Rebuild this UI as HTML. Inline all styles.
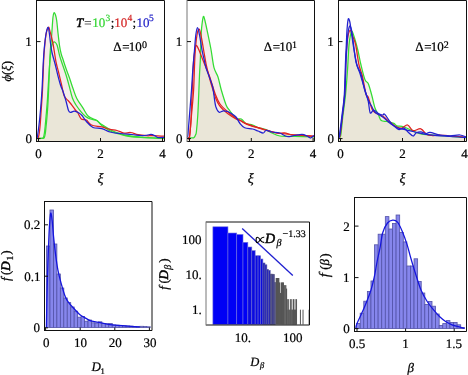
<!DOCTYPE html>
<html><head><meta charset="utf-8"><style>
html,body{margin:0;padding:0;background:#fff;width:468px;height:375px;overflow:hidden}
svg{display:block;font-family:"Liberation Serif",serif;will-change:transform;text-rendering:geometricPrecision}
</style></head><body>
<svg width="468" height="375" viewBox="0 0 468 375" font-family="Liberation Serif">
<rect width="468" height="375" fill="#fff"/>
<polygon points="37.00,138.00 37.25,137.36 37.50,136.00 37.75,134.34 38.00,132.63 38.25,130.86 38.50,129.01 38.75,127.07 39.00,125.00 39.25,122.79 39.50,120.48 39.75,118.06 40.00,115.52 40.25,112.84 40.50,110.00 40.75,107.08 41.00,104.09 41.25,100.97 41.50,97.64 41.75,94.02 42.00,90.00 42.25,85.24 42.50,79.80 42.75,74.02 43.00,68.26 43.25,63.00 43.50,58.46 43.75,54.50 44.00,51.29 44.25,48.53 44.50,45.98 44.75,43.57 45.00,41.32 45.25,39.22 45.50,37.29 45.75,35.55 46.00,34.00 46.25,32.70 46.50,31.53 46.75,30.46 47.00,29.51 47.25,28.73 47.50,28.07 47.75,27.57 48.00,27.30 48.25,27.47 48.50,27.30 48.75,27.27 49.00,27.56 49.25,28.29 49.50,29.31 49.75,30.35 50.00,31.30 50.25,32.19 50.50,33.09 50.75,34.00 51.00,34.94 51.25,35.89 51.50,36.87 51.75,33.89 52.00,30.26 52.25,26.70 52.50,23.12 52.75,19.54 53.00,17.00 53.25,15.25 53.50,13.94 53.75,13.12 54.00,12.70 54.25,12.68 54.50,12.89 54.75,13.25 55.00,13.73 55.25,14.32 55.50,15.00 55.75,15.80 56.00,16.75 56.25,17.92 56.50,19.34 56.75,21.10 57.00,23.22 57.25,25.64 57.50,28.19 57.75,30.69 58.00,33.00 58.25,35.19 58.50,37.37 58.75,39.50 59.00,41.56 59.25,43.50 59.50,45.30 59.75,46.93 60.00,48.41 60.25,49.75 60.50,50.98 60.75,52.12 61.00,53.18 61.25,54.19 61.50,55.10 61.75,55.87 62.00,56.56 62.25,57.23 62.50,57.93 62.75,58.65 63.00,59.41 63.25,60.17 63.50,60.95 63.75,61.72 64.00,62.49 64.25,63.26 64.50,64.02 64.75,64.79 65.00,65.54 65.25,66.30 65.50,67.04 65.75,67.77 66.00,68.50 66.25,69.20 66.50,69.90 66.75,70.58 67.00,71.25 67.25,71.92 67.50,72.59 67.75,73.25 68.00,73.91 68.25,74.58 68.50,75.25 68.75,75.92 69.00,76.60 69.25,77.30 69.50,78.00 69.75,78.73 70.00,79.46 70.25,80.21 70.50,80.97 70.75,81.74 71.00,82.51 71.25,83.28 71.50,84.04 71.75,84.81 72.00,85.57 72.25,86.32 72.50,87.06 72.75,87.78 73.00,88.50 73.25,89.22 73.50,89.94 73.75,90.68 74.00,91.42 74.25,92.16 74.50,92.88 74.75,93.60 75.00,94.28 75.25,94.95 75.50,95.59 75.75,96.19 76.00,96.80 76.25,97.34 76.50,97.87 76.75,98.39 77.00,98.86 77.25,99.31 77.50,99.77 77.75,100.21 78.00,100.61 78.25,101.01 78.50,101.41 78.75,101.81 79.00,102.18 79.25,102.56 79.50,102.93 79.75,103.31 80.00,103.67 80.25,104.03 80.50,104.39 80.75,104.75 81.00,105.11 81.25,105.47 81.50,105.83 81.75,106.19 82.00,106.56 82.25,106.93 82.50,107.30 82.75,107.68 83.00,108.07 83.25,108.48 83.50,108.89 83.75,109.30 84.00,109.75 84.25,110.20 84.50,110.65 84.75,111.10 85.00,111.55 85.25,112.01 85.50,112.45 85.75,112.87 86.00,113.28 86.25,113.69 86.50,114.05 86.75,114.40 87.00,114.74 87.25,115.08 87.50,115.35 87.75,115.62 88.00,115.88 88.25,116.15 88.50,116.35 88.75,116.54 89.00,116.72 89.25,116.91 89.50,117.09 89.75,117.24 90.00,117.38 90.25,117.52 90.50,117.65 90.75,117.79 91.00,117.92 91.25,118.04 91.50,118.15 91.75,118.26 92.00,118.37 92.25,118.48 92.50,118.59 92.75,118.69 93.00,118.79 93.25,118.89 93.50,118.99 93.75,119.09 94.00,119.19 94.25,119.30 94.50,119.40 94.75,119.51 95.00,119.61 95.25,119.72 95.50,119.83 95.75,119.95 96.00,120.08 96.25,120.21 96.50,120.34 96.75,120.47 97.00,120.64 97.25,120.81 97.50,120.97 97.75,121.14 98.00,121.35 98.25,121.55 98.50,121.76 98.75,121.99 99.00,122.23 99.25,122.46 99.50,122.70 99.75,122.93 100.00,123.14 100.25,123.35 100.50,123.56 100.75,123.76 101.00,123.93 101.25,124.11 101.50,124.29 101.75,124.46 102.00,124.63 102.25,124.79 102.50,124.95 102.75,125.11 103.00,125.27 103.25,125.43 103.50,125.59 103.75,125.75 104.00,125.90 104.25,126.06 104.50,126.22 104.75,126.37 105.00,126.53 105.25,126.68 105.50,126.83 105.75,126.99 106.00,127.14 106.25,127.29 106.50,127.44 106.75,127.59 107.00,127.75 107.25,127.90 107.50,128.04 107.75,128.19 108.00,128.34 108.25,128.48 108.50,128.63 108.75,128.78 109.00,128.92 109.25,129.07 109.50,129.21 109.75,129.33 110.00,129.40 110.25,129.45 110.50,129.50 110.75,129.55 111.00,129.60 111.25,129.65 111.50,129.69 111.75,129.72 112.00,129.76 112.25,129.79 112.50,129.83 112.75,129.86 113.00,129.88 113.25,129.91 113.50,129.94 113.75,129.97 114.00,130.00 114.25,130.03 114.50,130.06 114.75,130.09 115.00,130.12 115.25,130.16 115.50,130.20 115.75,130.24 116.00,130.28 116.25,130.34 116.50,130.39 116.75,130.45 117.00,130.50 117.25,130.58 117.50,130.66 117.75,130.74 118.00,130.82 118.25,130.90 118.50,131.00 118.75,131.10 119.00,131.20 119.25,131.30 119.50,131.41 119.75,131.52 120.00,131.63 120.25,131.73 120.50,131.84 120.75,131.95 121.00,132.05 121.25,132.15 121.50,132.26 121.75,132.36 122.00,132.45 122.25,132.53 122.50,132.62 122.75,132.71 123.00,132.77 123.25,132.83 123.50,132.89 123.75,132.94 124.00,133.00 124.25,133.01 124.50,133.03 124.75,133.04 125.00,133.05 125.25,133.05 125.50,133.03 125.75,133.00 126.00,132.98 126.25,132.96 126.50,132.91 126.75,132.87 127.00,132.83 127.25,132.79 127.50,132.75 127.75,132.70 128.00,132.66 128.25,132.62 128.50,132.58 128.75,132.55 129.00,132.53 129.25,132.50 129.50,132.47 129.75,132.47 130.00,132.48 130.25,132.49 130.50,132.49 130.75,132.51 131.00,132.55 131.25,132.60 131.50,132.64 131.75,132.69 132.00,132.75 132.25,132.82 132.50,132.89 132.75,132.96 133.00,133.03 133.25,133.12 133.50,133.20 133.75,133.29 134.00,133.37 134.25,133.46 134.50,133.55 134.75,133.63 135.00,133.72 135.25,133.81 135.50,133.90 135.75,133.98 136.00,134.06 136.25,134.14 136.50,134.22 136.75,134.29 137.00,134.35 137.25,134.41 137.50,134.48 137.75,134.54 138.00,134.60 138.25,134.65 138.50,134.69 138.75,134.74 139.00,134.78 139.25,134.83 139.50,134.87 139.75,134.91 140.00,134.94 140.25,134.98 140.50,135.02 140.75,135.06 141.00,135.09 141.25,135.12 141.50,135.16 141.75,135.19 142.00,135.22 142.25,135.25 142.50,135.28 142.75,135.31 143.00,135.34 143.25,135.37 143.50,135.40 143.75,135.42 144.00,135.45 144.25,135.47 144.50,135.45 144.75,135.43 145.00,135.41 145.25,135.39 145.50,135.36 145.75,135.33 146.00,135.31 146.25,135.28 146.50,135.26 146.75,135.23 147.00,135.20 147.25,135.16 147.50,135.12 147.75,135.08 148.00,135.01 148.25,134.95 148.50,134.88 148.75,134.81 149.00,134.73 149.25,134.66 149.50,134.59 149.75,134.52 150.00,134.48 150.25,134.43 150.50,134.41 150.75,134.40 151.00,134.40 151.25,134.44 151.50,134.47 151.75,134.52 152.00,134.59 152.25,134.66 152.50,134.74 152.75,134.83 153.00,134.92 153.25,135.02 153.50,135.12 153.75,135.23 154.00,135.34 154.25,135.45 154.50,135.57 154.75,135.68 155.00,135.80 155.25,135.82 155.50,135.83 155.75,135.84 156.00,135.85 156.25,135.86 156.50,135.87 156.75,135.88 157.00,135.89 157.25,135.90 157.50,135.91 157.75,135.93 158.00,135.94 158.25,135.95 158.50,135.96 158.75,135.97 159.00,135.98 159.25,135.99 159.50,136.00 159.75,136.01 160.00,136.02 160.25,136.03 160.50,136.05 160.75,136.06 161.00,136.07 161.25,136.08 161.50,136.09 161.75,136.10 162.00,136.11 162.25,136.12 162.50,136.13 162.75,136.15 163.00,136.16 163.25,136.17 163.50,136.18 163.75,136.19 164.00,136.20 164.00,141.0 37.00,141.0" fill="#f6ecea"/>
<polygon points="37.00,138.30 37.25,138.31 37.50,138.32 37.75,138.33 38.00,138.34 38.25,138.36 38.50,138.37 38.75,138.38 39.00,138.39 39.25,138.40 39.50,138.41 39.75,138.42 40.00,138.43 40.25,138.44 40.50,138.44 40.75,138.44 41.00,138.44 41.25,138.43 41.50,138.43 41.75,138.43 42.00,138.42 42.25,138.41 42.50,138.40 42.75,138.38 43.00,138.36 43.25,138.34 43.50,138.30 43.75,138.22 44.00,138.03 44.25,137.68 44.50,137.17 44.75,136.38 45.00,135.26 45.25,133.81 45.50,132.01 45.75,129.58 46.00,127.00 46.25,124.65 46.50,122.24 46.75,119.56 47.00,116.65 47.25,113.62 47.50,110.38 47.75,106.76 48.00,102.54 48.25,97.65 48.50,92.24 48.75,86.46 49.00,80.12 49.25,73.69 49.50,67.55 49.75,63.18 50.00,60.00 50.25,57.03 50.50,54.24 50.75,51.70 51.00,49.49 51.25,48.43 51.50,49.91 51.75,51.27 52.00,52.50 52.25,53.59 52.50,54.59 52.75,55.54 53.00,56.45 53.25,57.33 53.50,58.21 53.75,59.09 54.00,60.00 54.25,60.93 54.50,61.84 54.75,62.75 55.00,63.68 55.25,64.63 55.50,65.61 55.75,66.62 56.00,67.65 56.25,68.71 56.50,69.77 56.75,70.84 57.00,71.90 57.25,72.95 57.50,73.99 57.75,75.00 58.00,76.00 58.25,76.97 58.50,77.93 58.75,78.89 59.00,79.83 59.25,80.75 59.50,81.65 59.75,82.53 60.00,83.39 60.25,84.20 60.50,85.00 60.75,85.72 61.00,86.42 61.25,87.07 61.50,87.70 61.75,88.30 62.00,88.91 62.25,89.51 62.50,90.13 62.75,90.76 63.00,91.69 63.25,92.83 63.50,93.79 63.75,94.70 64.00,95.42 64.25,96.10 64.50,96.60 64.75,97.09 65.00,97.61 65.25,98.44 65.50,99.28 65.75,100.14 66.00,101.00 66.25,101.93 66.50,102.89 66.75,103.91 67.00,104.94 67.25,105.99 67.50,107.01 67.75,108.01 68.00,108.93 68.25,109.76 68.50,110.50 68.75,111.07 69.00,111.55 69.25,111.90 69.50,112.10 69.75,112.21 70.00,112.25 70.25,112.28 70.50,112.30 70.75,112.28 71.00,112.25 71.25,112.17 71.50,112.09 71.75,111.99 72.00,111.88 72.25,111.77 72.50,111.66 72.75,111.56 73.00,111.45 73.25,111.38 73.50,111.30 73.75,111.24 74.00,111.23 74.25,111.21 74.50,111.22 74.75,111.26 75.00,111.30 75.25,111.36 75.50,111.43 75.75,111.50 76.00,111.58 76.25,111.68 76.50,111.78 76.75,111.87 77.00,111.99 77.25,112.11 77.50,112.44 77.75,112.79 78.00,113.18 78.25,113.62 78.50,114.09 78.75,114.61 79.00,115.15 79.25,115.69 79.50,116.23 79.75,116.73 80.00,117.23 80.25,117.65 80.50,118.05 80.75,118.39 81.00,118.67 81.25,118.94 81.50,119.11 81.75,119.25 82.00,119.38 82.25,119.44 82.50,119.49 82.75,119.53 83.00,119.56 83.25,119.56 83.50,119.56 83.75,119.56 84.00,119.56 84.25,119.56 84.50,119.56 84.75,119.57 85.00,119.75 85.25,120.09 85.50,120.43 85.75,120.73 86.00,121.03 86.25,121.32 86.50,121.61 86.75,121.89 87.00,122.17 87.25,122.45 87.50,122.73 87.75,123.01 88.00,123.28 88.25,123.56 88.50,123.83 88.75,124.10 89.00,124.36 89.25,124.62 89.50,124.88 89.75,125.11 90.00,125.34 90.25,125.58 90.50,125.81 90.75,126.01 91.00,126.21 91.25,126.40 91.50,126.59 91.75,126.79 92.00,126.93 92.25,127.07 92.50,127.21 92.75,127.36 93.00,127.50 93.25,127.58 93.50,127.66 93.75,127.75 94.00,127.83 94.25,127.91 94.50,127.96 94.75,128.00 95.00,128.03 95.25,128.07 95.50,128.10 95.75,128.14 96.00,128.15 96.25,128.17 96.50,128.18 96.75,128.19 97.00,128.20 97.25,128.21 97.50,128.22 97.75,128.22 98.00,128.23 98.25,128.23 98.50,128.24 98.75,128.24 99.00,128.26 99.25,128.27 99.50,128.29 99.75,128.30 100.00,128.32 100.25,128.33 100.50,128.37 100.75,128.41 101.00,128.46 101.25,128.50 101.50,128.55 101.75,128.59 102.00,128.67 102.25,128.75 102.50,128.83 102.75,128.91 103.00,129.00 103.25,129.09 103.50,129.19 103.75,129.30 104.00,129.41 104.25,129.52 104.50,129.63 104.75,129.75 105.00,129.87 105.25,129.99 105.50,130.12 105.75,130.24 106.00,130.36 106.25,130.48 106.50,130.60 106.75,130.72 107.00,130.85 107.25,130.96 107.50,131.07 107.75,131.18 108.00,131.29 108.25,131.39 108.50,131.50 108.75,131.59 109.00,131.67 109.25,131.75 109.50,131.83 109.75,131.92 110.00,132.00 110.25,132.06 110.50,132.12 110.75,132.18 111.00,132.24 111.25,132.30 111.50,132.36 111.75,132.40 112.00,132.45 112.25,132.50 112.50,132.54 112.75,132.59 113.00,132.64 113.25,132.68 113.50,132.71 113.75,132.75 114.00,132.79 114.25,132.82 114.50,132.86 114.75,132.90 115.00,132.93 115.25,133.02 115.50,133.10 115.75,133.19 116.00,133.27 116.25,133.36 116.50,133.43 116.75,133.51 117.00,133.58 117.25,133.66 117.50,133.73 117.75,133.81 118.00,133.88 118.25,133.95 118.50,134.03 118.75,134.10 119.00,134.17 119.25,134.23 119.50,134.30 119.75,134.36 120.00,134.43 120.25,134.49 120.50,134.56 120.75,134.63 121.00,134.69 121.25,134.75 121.50,134.81 121.75,134.87 122.00,134.93 122.25,134.99 122.50,135.04 122.75,135.10 123.00,135.16 123.25,135.22 123.50,135.28 123.75,135.33 124.00,135.38 124.25,135.44 124.50,135.49 124.75,135.54 125.00,135.59 125.25,135.64 125.50,135.70 125.75,135.75 126.00,135.80 126.25,135.85 126.50,135.89 126.75,135.94 127.00,135.98 127.25,136.03 127.50,136.07 127.75,136.12 128.00,136.16 128.25,136.21 128.50,136.25 128.75,136.28 129.00,136.32 129.25,136.36 129.50,136.40 129.75,136.43 130.00,136.47 130.25,136.51 130.50,136.54 130.75,136.58 131.00,136.61 131.25,136.64 131.50,136.67 131.75,136.70 132.00,136.73 132.25,136.76 132.50,136.79 132.75,136.82 133.00,136.84 133.25,136.87 133.50,136.89 133.75,136.92 134.00,136.94 134.25,136.96 134.50,136.99 134.75,137.01 135.00,137.03 135.25,137.06 135.50,137.08 135.75,137.10 136.00,137.12 136.25,137.14 136.50,137.16 136.75,137.18 137.00,137.20 137.25,137.22 137.50,137.24 137.75,137.26 138.00,137.28 138.25,137.30 138.50,137.32 138.75,137.34 139.00,137.35 139.25,137.37 139.50,137.39 139.75,137.41 140.00,137.43 140.25,137.45 140.50,137.46 140.75,137.48 141.00,137.50 141.25,137.52 141.50,137.53 141.75,137.55 142.00,137.56 142.25,137.58 142.50,137.59 142.75,137.61 143.00,137.62 143.25,137.64 143.50,137.65 143.75,137.67 144.00,137.68 144.25,137.70 144.50,137.71 144.75,137.72 145.00,137.74 145.25,137.75 145.50,137.76 145.75,137.77 146.00,137.78 146.25,137.80 146.50,137.81 146.75,137.82 147.00,137.83 147.25,137.84 147.50,137.85 147.75,137.87 148.00,137.88 148.25,137.89 148.50,137.90 148.75,137.91 149.00,137.93 149.25,137.94 149.50,137.95 149.75,137.96 150.00,137.97 150.25,137.98 150.50,137.99 150.75,138.00 151.00,138.01 151.25,138.02 151.50,138.03 151.75,138.04 152.00,138.05 152.25,138.06 152.50,138.07 152.75,138.08 153.00,138.09 153.25,138.10 153.50,138.11 153.75,138.12 154.00,138.13 154.25,138.14 154.50,138.15 154.75,138.16 155.00,138.16 155.25,138.17 155.50,138.18 155.75,138.19 156.00,138.20 156.25,138.21 156.50,138.22 156.75,138.23 157.00,138.24 157.25,138.25 157.50,138.26 157.75,138.27 158.00,138.28 158.25,138.29 158.50,138.29 158.75,138.30 159.00,138.31 159.25,138.32 159.50,138.33 159.75,138.34 160.00,138.35 160.25,138.36 160.50,138.37 160.75,138.38 161.00,138.38 161.25,138.39 161.50,138.40 161.75,138.41 162.00,138.42 162.25,138.43 162.50,138.44 162.75,138.45 163.00,138.46 163.25,138.47 163.50,138.48 163.75,138.49 164.00,138.50 164.00,141.0 37.00,141.0" fill="#eae6d8"/>
<path d="M37.00,138.30 C37.92,138.32 41.28,138.52 42.50,138.40 C43.72,138.28 43.83,138.42 44.30,137.60 C44.77,136.78 45.02,135.27 45.30,133.50 C45.58,131.73 45.75,129.42 46.00,127.00 C46.25,124.58 46.50,122.50 46.80,119.00 C47.10,115.50 47.50,110.83 47.80,106.00 C48.10,101.17 48.33,96.00 48.60,90.00 C48.87,84.00 49.13,76.33 49.40,70.00 C49.67,63.67 49.88,57.00 50.20,52.00 C50.52,47.00 50.95,44.33 51.30,40.00 C51.65,35.67 52.02,29.83 52.30,26.00 C52.58,22.17 52.72,19.22 53.00,17.00 C53.28,14.78 53.58,13.03 54.00,12.70 C54.42,12.37 55.05,13.67 55.50,15.00 C55.95,16.33 56.28,17.70 56.70,20.70 C57.12,23.70 57.52,28.78 58.00,33.00 C58.48,37.22 59.07,42.50 59.60,46.00 C60.13,49.50 60.67,51.87 61.20,54.00 C61.73,56.13 62.00,56.38 62.80,58.80 C63.60,61.22 64.88,65.30 66.00,68.50 C67.12,71.70 68.33,74.67 69.50,78.00 C70.67,81.33 71.78,85.08 73.00,88.50 C74.22,91.92 75.15,95.27 76.80,98.50 C78.45,101.73 80.98,104.95 82.90,107.90 C84.82,110.85 85.98,114.10 88.30,116.20 C90.62,118.30 94.55,119.12 96.80,120.50 C99.05,121.88 99.13,122.75 101.80,124.50 C104.47,126.25 109.77,129.50 112.80,131.00 C115.83,132.50 117.73,132.78 120.00,133.50 C122.27,134.22 122.83,134.68 126.40,135.30 C129.97,135.92 135.13,136.70 141.40,137.20 C147.67,137.70 160.23,138.12 164.00,138.30" fill="none" stroke="#33dd33" stroke-width="1.25" stroke-linejoin="round"/>
<path d="M37.00,138.30 C37.80,138.32 40.73,138.53 41.80,138.40 C42.87,138.27 42.97,138.40 43.40,137.50 C43.83,136.60 44.10,134.92 44.40,133.00 C44.70,131.08 44.92,128.83 45.20,126.00 C45.48,123.17 45.73,120.33 46.10,116.00 C46.47,111.67 46.98,106.00 47.40,100.00 C47.82,94.00 48.17,86.67 48.60,80.00 C49.03,73.33 49.55,65.45 50.00,60.00 C50.45,54.55 50.85,50.10 51.30,47.30 C51.75,44.50 52.13,44.08 52.70,43.20 C53.27,42.32 53.95,41.62 54.70,42.00 C55.45,42.38 56.38,43.23 57.20,45.50 C58.02,47.77 58.72,52.43 59.60,55.60 C60.48,58.77 61.43,61.30 62.50,64.50 C63.57,67.70 64.88,71.22 66.00,74.80 C67.12,78.38 68.13,82.13 69.20,86.00 C70.27,89.87 71.27,94.83 72.40,98.00 C73.53,101.17 74.52,102.65 76.00,105.00 C77.48,107.35 79.70,110.18 81.30,112.10 C82.90,114.02 84.08,115.35 85.60,116.50 C87.12,117.65 88.55,118.33 90.40,119.00 C92.25,119.67 94.80,119.42 96.70,120.50 C98.60,121.58 99.25,123.62 101.80,125.50 C104.35,127.38 107.97,130.08 112.00,131.80 C116.03,133.52 121.17,134.85 126.00,135.80 C130.83,136.75 134.67,137.05 141.00,137.50 C147.33,137.95 160.17,138.33 164.00,138.50" fill="none" stroke="#33dd33" stroke-width="1.25" stroke-linejoin="round"/>
<path d="M37.00,138.30 C37.25,138.08 38.00,138.88 38.50,137.00 C39.00,135.12 39.55,131.50 40.00,127.00 C40.45,122.50 40.78,116.17 41.20,110.00 C41.62,103.83 42.10,98.00 42.50,90.00 C42.90,82.00 43.27,69.00 43.60,62.00 C43.93,55.00 44.08,52.67 44.50,48.00 C44.92,43.33 45.43,37.45 46.10,34.00 C46.77,30.55 47.85,27.75 48.50,27.30 C49.15,26.85 49.30,28.85 50.00,31.30 C50.70,33.75 51.92,38.22 52.70,42.00 C53.48,45.78 54.15,50.67 54.70,54.00 C55.25,57.33 55.37,59.00 56.00,62.00 C56.63,65.00 57.57,68.17 58.50,72.00 C59.43,75.83 60.65,81.00 61.60,85.00 C62.55,89.00 63.13,93.42 64.20,96.00 C65.27,98.58 66.87,99.17 68.00,100.50 C69.13,101.83 69.83,102.50 71.00,104.00 C72.17,105.50 73.85,108.00 75.00,109.50 C76.15,111.00 76.85,111.42 77.90,113.00 C78.95,114.58 79.88,117.83 81.30,119.00 C82.72,120.17 84.70,119.00 86.40,120.00 C88.10,121.00 88.93,123.85 91.50,125.00 C94.07,126.15 98.72,126.17 101.80,126.90 C104.88,127.63 107.47,128.80 110.00,129.40 C112.53,130.00 114.67,129.90 117.00,130.50 C119.33,131.10 121.72,132.67 124.00,133.00 C126.28,133.33 128.37,132.23 130.70,132.50 C133.03,132.77 135.33,134.07 138.00,134.60 C140.67,135.13 144.37,135.52 146.70,135.70 C149.03,135.88 149.12,135.62 152.00,135.70 C154.88,135.78 162.00,136.12 164.00,136.20" fill="none" stroke="#e02222" stroke-width="1.25" stroke-linejoin="round"/>
<path d="M37.00,138.00 C37.08,137.67 37.17,138.17 37.50,136.00 C37.83,133.83 38.50,129.33 39.00,125.00 C39.50,120.67 40.00,115.83 40.50,110.00 C41.00,104.17 41.53,98.00 42.00,90.00 C42.47,82.00 42.92,69.00 43.30,62.00 C43.68,55.00 43.85,52.67 44.30,48.00 C44.75,43.33 45.38,37.45 46.00,34.00 C46.62,30.55 47.45,27.47 48.00,27.30 C48.55,27.13 48.87,30.22 49.30,33.00 C49.73,35.78 50.15,40.75 50.60,44.00 C51.05,47.25 51.43,49.83 52.00,52.50 C52.57,55.17 53.40,57.75 54.00,60.00 C54.60,62.25 54.93,63.33 55.60,66.00 C56.27,68.67 57.18,72.83 58.00,76.00 C58.82,79.17 59.63,82.33 60.50,85.00 C61.37,87.67 62.28,89.33 63.20,92.00 C64.12,94.67 65.12,97.92 66.00,101.00 C66.88,104.08 67.75,108.62 68.50,110.50 C69.25,112.38 69.52,112.18 70.50,112.30 C71.48,112.42 72.98,111.08 74.40,111.20 C75.82,111.32 77.73,112.28 79.00,113.00 C80.27,113.72 80.77,114.08 82.00,115.50 C83.23,116.92 84.57,119.50 86.40,121.50 C88.23,123.50 90.43,126.32 93.00,127.50 C95.57,128.68 98.97,127.85 101.80,128.60 C104.63,129.35 106.97,131.18 110.00,132.00 C113.03,132.82 116.33,133.08 120.00,133.50 C123.67,133.92 128.50,134.17 132.00,134.50 C135.50,134.83 138.50,135.38 141.00,135.50 C143.50,135.62 145.33,135.38 147.00,135.20 C148.67,135.02 149.67,134.30 151.00,134.40 C152.33,134.50 153.83,135.27 155.00,135.80 C156.17,136.33 156.50,137.35 158.00,137.60 C159.50,137.85 163.00,137.35 164.00,137.30" fill="none" stroke="#2222d0" stroke-width="1.25" stroke-linejoin="round"/>
<line x1="36.5" y1="0.5" x2="164.5" y2="0.5" stroke="#111" stroke-width="1"/>
<line x1="36.5" y1="141.5" x2="164.5" y2="141.5" stroke="#111" stroke-width="1"/>
<line x1="164.5" y1="0.5" x2="164.5" y2="141.5" stroke="#111" stroke-width="1"/>
<line x1="36.5" y1="0.0" x2="36.5" y2="142.0" stroke="#111" stroke-width="1"/>
<line x1="38.50" y1="141.5" x2="38.50" y2="138.0" stroke="#111" stroke-width="1"/>
<text x="35.25" y="157.60" font-size="13" text-anchor="start" fill="#000" stroke="#000" stroke-width="0.22">0</text>
<line x1="100.50" y1="141.5" x2="100.50" y2="138.0" stroke="#111" stroke-width="1"/>
<text x="97.32" y="157.60" font-size="13" text-anchor="start" fill="#000" stroke="#000" stroke-width="0.22">2</text>
<line x1="162.50" y1="141.5" x2="162.50" y2="138.0" stroke="#111" stroke-width="1"/>
<text x="159.22" y="157.60" font-size="13" text-anchor="start" fill="#000" stroke="#000" stroke-width="0.22">4</text>
<line x1="36.5" y1="138.6" x2="40.5" y2="138.6" stroke="#111" stroke-width="1"/>
<text x="25.45" y="143.00" font-size="13" text-anchor="start" fill="#000" stroke="#000" stroke-width="0.22">0</text>
<line x1="36.5" y1="41.6" x2="40.5" y2="41.6" stroke="#111" stroke-width="1"/>
<text x="25.27" y="46.00" font-size="13" text-anchor="start" fill="#000" stroke="#000" stroke-width="0.22">1</text>
<text x="97.57" y="183.00" font-size="14" text-anchor="start" fill="#000" stroke="#000" stroke-width="0.22" font-style="italic">&#958;</text>
<text x="113.30" y="51.30" font-size="13" text-anchor="start" fill="#000" stroke="#000" stroke-width="0.22">&#916;</text>
<text x="122.35" y="51.30" font-size="13" text-anchor="start" fill="#000" stroke="#000" stroke-width="0.22">=</text>
<text x="128.76" y="51.30" font-size="13" text-anchor="start" fill="#000" stroke="#000" stroke-width="0.22">10</text>
<text x="141.92" y="48.00" font-size="10" text-anchor="start" fill="#000" stroke="#000" stroke-width="0.22">0</text>
<polygon points="187.50,137.21 187.75,136.17 188.00,134.00 188.25,131.08 188.50,127.94 188.75,124.70 189.00,121.44 189.25,118.19 189.50,115.00 189.75,111.90 190.00,108.83 190.25,105.77 190.50,102.72 190.75,99.63 191.00,96.50 191.25,93.30 191.50,90.00 191.75,86.41 192.00,82.47 192.25,78.35 192.50,74.34 192.75,70.71 193.00,67.44 193.25,64.38 193.50,61.43 193.75,58.55 194.00,55.71 194.25,52.87 194.50,50.00 194.75,46.93 195.00,43.67 195.25,40.49 195.50,37.69 195.75,35.43 196.00,33.56 196.25,31.91 196.50,30.48 196.75,29.30 197.00,28.41 197.25,27.84 197.50,27.60 197.75,27.83 198.00,28.37 198.25,29.15 198.50,29.58 198.75,29.32 199.00,29.17 199.25,29.19 199.50,29.51 199.75,30.02 200.00,30.80 200.25,31.80 200.50,32.92 200.75,34.15 201.00,35.45 201.25,32.68 201.50,29.05 201.75,26.41 202.00,24.31 202.25,22.38 202.50,20.47 202.75,18.76 203.00,17.42 203.25,16.65 203.50,16.39 203.75,16.57 204.00,17.11 204.25,17.92 204.50,18.85 204.75,19.81 205.00,20.80 205.25,21.83 205.50,22.91 205.75,24.03 206.00,25.17 206.25,26.33 206.50,27.51 206.75,28.69 207.00,29.87 207.25,31.06 207.50,32.25 207.75,33.43 208.00,34.62 208.25,35.81 208.50,37.00 208.75,38.20 209.00,39.40 209.25,40.61 209.50,41.84 209.75,43.06 210.00,44.32 210.25,45.58 210.50,46.86 210.75,48.18 211.00,49.50 211.25,50.98 211.50,52.46 211.75,54.12 212.00,55.80 212.25,57.54 212.50,59.28 212.75,60.95 213.00,62.57 213.25,64.02 213.50,65.41 213.75,66.55 214.00,67.70 214.25,68.52 214.50,69.34 214.75,70.04 215.00,70.64 215.25,71.24 215.50,71.74 215.75,72.23 216.00,72.71 216.25,73.17 216.50,73.62 216.75,74.09 217.00,74.60 217.25,75.11 217.50,75.70 217.75,76.35 218.00,77.00 218.25,77.84 218.50,78.68 218.75,79.63 219.00,80.61 219.25,81.65 219.50,82.73 219.75,83.81 220.00,84.90 220.25,85.95 220.50,86.98 220.75,87.97 221.00,88.90 221.25,89.82 221.50,90.68 221.75,91.54 222.00,92.39 222.25,93.23 222.50,94.06 222.75,94.90 223.00,95.72 223.25,96.53 223.50,97.34 223.75,98.15 224.00,98.92 224.25,99.70 224.50,100.47 224.75,101.22 225.00,101.94 225.25,102.67 225.50,103.37 225.75,104.02 226.00,104.68 226.25,105.31 226.50,105.87 226.75,106.42 227.00,106.92 227.25,107.38 227.50,107.81 227.75,108.18 228.00,108.54 228.25,108.85 228.50,109.15 228.75,109.45 229.00,109.75 229.25,110.04 229.50,110.36 229.75,110.68 230.00,111.00 230.25,111.35 230.50,111.70 230.75,112.05 231.00,112.40 231.25,112.76 231.50,113.12 231.75,113.47 232.00,113.82 232.25,114.00 232.50,114.16 232.75,114.32 233.00,114.49 233.25,114.66 233.50,114.83 233.75,115.01 234.00,115.20 234.25,115.38 234.50,115.58 234.75,115.80 235.00,116.01 235.25,116.23 235.50,116.49 235.75,116.74 236.00,117.00 236.25,117.33 236.50,117.67 236.75,118.01 237.00,118.42 237.25,118.78 237.50,118.94 237.75,119.03 238.00,119.02 238.25,118.99 238.50,118.96 238.75,118.93 239.00,118.89 239.25,118.85 239.50,118.81 239.75,118.79 240.00,118.78 240.25,118.77 240.50,118.78 240.75,118.85 241.00,118.92 241.25,118.99 241.50,119.14 241.75,119.31 242.00,119.49 242.25,119.71 242.50,119.97 242.75,120.23 243.00,120.51 243.25,120.81 243.50,121.11 243.75,121.41 244.00,121.71 244.25,122.01 244.50,122.27 244.75,122.52 245.00,122.77 245.25,122.98 245.50,123.15 245.75,123.33 246.00,123.46 246.25,123.57 246.50,123.68 246.75,123.79 247.00,123.89 247.25,123.97 247.50,124.03 247.75,124.09 248.00,124.15 248.25,124.20 248.50,124.24 248.75,124.28 249.00,124.32 249.25,124.36 249.50,124.40 249.75,124.43 250.00,124.47 250.25,124.50 250.50,124.54 250.75,124.58 251.00,124.62 251.25,124.66 251.50,124.70 251.75,124.75 252.00,124.82 252.25,124.88 252.50,124.95 252.75,125.02 253.00,125.12 253.25,125.21 253.50,125.31 253.75,125.42 254.00,125.54 254.25,125.66 254.50,125.79 254.75,125.92 255.00,126.06 255.25,126.20 255.50,126.33 255.75,126.47 256.00,126.61 256.25,126.73 256.50,126.86 256.75,126.98 257.00,127.10 257.25,127.20 257.50,127.30 257.75,127.40 258.00,127.50 258.25,127.58 258.50,127.65 258.75,127.73 259.00,127.81 259.25,127.88 259.50,127.95 259.75,128.01 260.00,128.08 260.25,128.14 260.50,128.20 260.75,128.26 261.00,128.32 261.25,128.38 261.50,128.44 261.75,128.50 262.00,128.56 262.25,128.62 262.50,128.68 262.75,128.74 263.00,128.80 263.25,128.86 263.50,128.93 263.75,129.00 264.00,129.07 264.25,129.14 264.50,129.20 264.75,129.27 265.00,129.36 265.25,129.44 265.50,129.53 265.75,129.61 266.00,129.70 266.25,129.81 266.50,129.92 266.75,130.04 267.00,130.15 267.25,130.28 267.50,130.41 267.75,130.52 268.00,130.60 268.25,130.67 268.50,130.75 268.75,130.83 269.00,130.91 269.25,130.98 269.50,131.05 269.75,131.13 270.00,131.20 270.25,131.27 270.50,131.34 270.75,131.41 271.00,131.48 271.25,131.55 271.50,131.63 271.75,131.70 272.00,131.77 272.25,131.84 272.50,131.91 272.75,131.98 273.00,132.05 273.25,132.12 273.50,132.19 273.75,132.22 274.00,132.24 274.25,132.26 274.50,132.28 274.75,132.30 275.00,132.32 275.25,132.34 275.50,132.36 275.75,132.38 276.00,132.40 276.25,132.43 276.50,132.45 276.75,132.47 277.00,132.50 277.25,132.54 277.50,132.57 277.75,132.61 278.00,132.65 278.25,132.68 278.50,132.74 278.75,132.80 279.00,132.86 279.25,132.92 279.50,132.98 279.75,133.06 280.00,133.16 280.25,133.25 280.50,133.24 280.75,133.20 281.00,133.15 281.25,133.10 281.50,133.05 281.75,133.00 282.00,132.95 282.25,132.90 282.50,132.86 282.75,132.83 283.00,132.80 283.25,132.77 283.50,132.77 283.75,132.78 284.00,132.79 284.25,132.79 284.50,132.82 284.75,132.86 285.00,132.91 285.25,132.96 285.50,133.00 285.75,133.06 286.00,133.13 286.25,133.20 286.50,133.27 286.75,133.34 287.00,133.41 287.25,133.49 287.50,133.57 287.75,133.65 288.00,133.73 288.25,133.81 288.50,133.89 288.75,133.97 289.00,134.05 289.25,134.13 289.50,134.21 289.75,134.28 290.00,134.35 290.25,134.42 290.50,134.49 290.75,134.56 291.00,134.59 291.25,134.61 291.50,134.63 291.75,134.65 292.00,134.67 292.25,134.69 292.50,134.71 292.75,134.73 293.00,134.76 293.25,134.78 293.50,134.80 293.75,134.82 294.00,134.84 294.25,134.86 294.50,134.88 294.75,134.89 295.00,134.91 295.25,134.93 295.50,134.95 295.75,134.97 296.00,134.99 296.25,135.01 296.50,135.02 296.75,135.03 297.00,134.99 297.25,134.94 297.50,134.90 297.75,134.85 298.00,134.81 298.25,134.77 298.50,134.73 298.75,134.69 299.00,134.65 299.25,134.61 299.50,134.57 299.75,134.54 300.00,134.52 300.25,134.49 300.50,134.46 300.75,134.44 301.00,134.42 301.25,134.42 301.50,134.41 301.75,134.41 302.00,134.40 302.25,134.43 302.50,134.45 302.75,134.48 303.00,134.50 303.25,134.56 303.50,134.62 303.75,134.67 304.00,134.74 304.25,134.83 304.50,134.91 304.75,135.00 305.00,135.10 305.25,135.21 305.50,135.32 305.75,135.43 306.00,135.55 306.25,135.66 306.50,135.71 306.75,135.72 307.00,135.74 307.25,135.76 307.50,135.77 307.75,135.79 308.00,135.81 308.25,135.82 308.50,135.84 308.75,135.85 309.00,135.87 309.25,135.89 309.50,135.90 309.75,135.92 310.00,135.94 310.25,135.95 310.50,135.97 310.75,135.98 311.00,136.00 311.25,136.02 311.50,136.03 311.75,136.05 312.00,136.07 312.25,136.08 312.50,136.10 312.75,136.12 313.00,136.13 313.25,136.12 313.50,135.87 313.75,135.63 314.00,135.40 314.00,141.0 187.50,141.0" fill="#f6ecea"/>
<polygon points="187.50,138.00 187.75,138.00 188.00,138.00 188.25,138.30 188.50,138.70 188.75,138.90 189.00,138.76 189.25,138.18 189.50,137.92 189.75,137.93 190.00,137.95 190.25,137.96 190.50,137.98 190.75,137.98 191.00,137.99 191.25,138.00 191.50,138.00 191.75,138.00 192.00,137.99 192.25,137.98 192.50,137.97 192.75,137.96 193.00,137.92 193.25,137.87 193.50,137.82 193.75,137.72 194.00,137.59 194.25,137.42 194.50,137.18 194.75,136.82 195.00,136.31 195.25,135.65 195.50,135.00 195.75,134.55 196.00,134.09 196.25,132.80 196.50,130.67 196.75,128.19 197.00,125.46 197.25,122.51 197.50,119.31 197.75,115.74 198.00,111.46 198.25,106.07 198.50,99.93 198.75,93.78 199.00,87.44 199.25,80.94 199.50,75.00 199.75,70.21 200.00,65.91 200.25,61.32 200.50,55.20 200.75,54.48 201.00,55.12 201.25,55.77 201.50,56.42 201.75,57.06 202.00,57.71 202.25,58.35 202.50,58.99 202.75,59.62 203.00,60.25 203.25,60.87 203.50,61.48 203.75,62.09 204.00,62.69 204.25,63.29 204.50,63.88 204.75,64.47 205.00,65.06 205.25,65.65 205.50,66.23 205.75,66.82 206.00,67.70 206.25,68.49 206.50,69.26 206.75,69.97 207.00,70.66 207.25,71.32 207.50,71.98 207.75,72.63 208.00,73.28 208.25,73.94 208.50,74.61 208.75,75.30 209.00,76.16 209.25,77.08 209.50,78.00 209.75,78.91 210.00,79.82 210.25,80.71 210.50,81.59 210.75,82.46 211.00,83.33 211.25,84.19 211.50,85.03 211.75,85.88 212.00,86.71 212.25,87.54 212.50,88.37 212.75,89.18 213.00,90.00 213.25,90.81 213.50,91.79 213.75,93.93 214.00,95.69 214.25,97.49 214.50,99.37 214.75,101.20 215.00,102.85 215.25,104.23 215.50,105.41 215.75,106.40 216.00,107.18 216.25,107.90 216.50,108.49 216.75,109.07 217.00,109.55 217.25,110.02 217.50,110.42 217.75,110.78 218.00,111.13 218.25,111.40 218.50,111.67 218.75,111.87 219.00,112.05 219.25,112.21 219.50,112.27 219.75,112.32 220.00,112.31 220.25,112.25 220.50,112.18 220.75,112.07 221.00,111.94 221.25,111.81 221.50,111.65 221.75,111.50 222.00,111.35 222.25,111.22 222.50,111.09 222.75,110.98 223.00,110.91 223.25,110.84 223.50,110.80 223.75,110.79 224.00,110.79 224.25,110.79 224.50,110.95 224.75,111.18 225.00,111.41 225.25,111.63 225.50,111.85 225.75,112.06 226.00,112.26 226.25,112.46 226.50,112.67 226.75,112.86 227.00,113.05 227.25,113.24 227.50,113.42 227.75,113.61 228.00,113.79 228.25,113.96 228.50,114.14 228.75,114.32 229.00,114.49 229.25,114.67 229.50,114.84 229.75,115.01 230.00,115.18 230.25,115.36 230.50,115.52 230.75,115.69 231.00,115.86 231.25,116.03 231.50,116.19 231.75,116.36 232.00,116.52 232.25,116.69 232.50,116.85 232.75,117.01 233.00,117.17 233.25,117.33 233.50,117.49 233.75,117.65 234.00,117.80 234.25,117.96 234.50,118.12 234.75,118.27 235.00,118.42 235.25,118.56 235.50,118.71 235.75,118.85 236.00,119.00 236.25,119.12 236.50,119.24 236.75,119.36 237.00,119.47 237.25,119.55 237.50,119.63 237.75,119.73 238.00,120.19 238.25,120.66 238.50,121.12 238.75,121.57 239.00,122.00 239.25,122.43 239.50,122.79 239.75,123.15 240.00,123.50 240.25,123.81 240.50,124.11 240.75,124.42 241.00,124.71 241.25,125.01 241.50,125.29 241.75,125.56 242.00,125.82 242.25,126.06 242.50,126.28 242.75,126.50 243.00,126.70 243.25,126.87 243.50,127.04 243.75,127.21 244.00,127.34 244.25,127.47 244.50,127.60 244.75,127.72 245.00,127.80 245.25,127.88 245.50,127.96 245.75,128.04 246.00,128.10 246.25,128.14 246.50,128.19 246.75,128.24 247.00,128.28 247.25,128.33 247.50,128.35 247.75,128.38 248.00,128.41 248.25,128.44 248.50,128.47 248.75,128.50 249.00,128.52 249.25,128.54 249.50,128.57 249.75,128.59 250.00,128.61 250.25,128.64 250.50,128.67 250.75,128.69 251.00,128.72 251.25,128.75 251.50,128.78 251.75,128.83 252.00,128.87 252.25,128.92 252.50,128.96 252.75,129.01 253.00,129.08 253.25,129.15 253.50,129.23 253.75,129.30 254.00,129.38 254.25,129.47 254.50,129.56 254.75,129.65 255.00,129.75 255.25,129.85 255.50,129.95 255.75,130.06 256.00,130.16 256.25,130.27 256.50,130.38 256.75,130.49 257.00,130.59 257.25,130.70 257.50,130.80 257.75,130.90 258.00,131.00 258.25,131.11 258.50,131.21 258.75,131.32 259.00,131.43 259.25,131.54 259.50,131.66 259.75,131.78 260.00,131.90 260.25,132.02 260.50,132.13 260.75,132.25 261.00,132.36 261.25,132.47 261.50,132.57 261.75,132.67 262.00,132.75 262.25,132.83 262.50,132.91 262.75,132.95 263.00,132.97 263.25,133.00 263.50,132.93 263.75,132.84 264.00,132.65 264.25,132.37 264.50,131.96 264.75,131.54 265.00,131.15 265.25,130.89 265.50,130.69 265.75,130.60 266.00,130.50 266.25,130.51 266.50,130.52 266.75,130.57 267.00,130.64 267.25,130.70 267.50,130.77 267.75,130.84 268.00,130.90 268.25,130.97 268.50,131.04 268.75,131.15 269.00,131.30 269.25,131.46 269.50,131.61 269.75,131.77 270.00,131.92 270.25,132.07 270.50,132.22 270.75,132.36 271.00,132.50 271.25,132.63 271.50,132.75 271.75,132.88 272.00,133.00 272.25,133.12 272.50,133.24 272.75,133.36 273.00,133.48 273.25,133.60 273.50,133.73 273.75,133.86 274.00,133.98 274.25,134.11 274.50,134.23 274.75,134.35 275.00,134.47 275.25,134.59 275.50,134.70 275.75,134.80 276.00,134.90 276.25,135.00 276.50,135.10 276.75,135.20 277.00,135.27 277.25,135.35 277.50,135.43 277.75,135.50 278.00,135.58 278.25,135.65 278.50,135.70 278.75,135.75 279.00,135.80 279.25,135.85 279.50,135.90 279.75,135.95 280.00,136.00 280.25,136.03 280.50,136.06 280.75,136.08 281.00,136.11 281.25,136.14 281.50,136.17 281.75,136.19 282.00,136.22 282.25,136.24 282.50,136.25 282.75,136.27 283.00,136.28 283.25,136.29 283.50,136.31 283.75,136.32 284.00,136.33 284.25,136.35 284.50,136.36 284.75,136.36 285.00,136.37 285.25,136.37 285.50,136.38 285.75,136.38 286.00,136.39 286.25,136.39 286.50,136.40 286.75,136.40 287.00,136.47 287.25,136.51 287.50,136.53 287.75,136.55 288.00,136.57 288.25,136.59 288.50,136.58 288.75,136.56 289.00,136.54 289.25,136.52 289.50,136.49 289.75,136.44 290.00,136.43 290.25,136.43 290.50,136.43 290.75,136.44 291.00,136.44 291.25,136.44 291.50,136.44 291.75,136.44 292.00,136.44 292.25,136.45 292.50,136.45 292.75,136.46 293.00,136.46 293.25,136.47 293.50,136.47 293.75,136.48 294.00,136.48 294.25,136.49 294.50,136.49 294.75,136.50 295.00,136.50 295.25,136.51 295.50,136.51 295.75,136.52 296.00,136.53 296.25,136.54 296.50,136.54 296.75,136.55 297.00,136.56 297.25,136.56 297.50,136.57 297.75,136.58 298.00,136.58 298.25,136.59 298.50,136.60 298.75,136.61 299.00,136.61 299.25,136.62 299.50,136.63 299.75,136.63 300.00,136.64 300.25,136.65 300.50,136.65 300.75,136.66 301.00,136.67 301.25,136.67 301.50,136.68 301.75,136.69 302.00,136.69 302.25,136.70 302.50,136.70 302.75,136.71 303.00,136.72 303.25,136.72 303.50,136.73 303.75,136.74 304.00,136.74 304.25,136.75 304.50,136.76 304.75,136.76 305.00,136.77 305.25,136.78 305.50,136.78 305.75,136.79 306.00,136.80 306.25,136.80 306.50,136.81 306.75,136.81 307.00,136.82 307.25,136.83 307.50,136.83 307.75,136.84 308.00,136.85 308.25,136.85 308.50,136.95 308.75,137.15 309.00,137.33 309.25,137.51 309.50,137.68 309.75,137.80 310.00,137.91 310.25,137.96 310.50,137.99 310.75,137.95 311.00,137.87 311.25,137.78 311.50,137.62 311.75,137.46 312.00,137.27 312.25,137.06 312.50,136.96 312.75,136.97 313.00,136.97 313.25,136.98 313.50,136.99 313.75,136.99 314.00,137.00 314.00,141.0 187.50,141.0" fill="#eae6d8"/>
<path d="M187.50,137.80 C188.52,137.80 192.27,138.27 193.60,137.80 C194.93,137.33 195.03,136.03 195.50,135.00 C195.97,133.97 196.02,134.93 196.40,131.60 C196.78,128.27 197.42,121.10 197.80,115.00 C198.18,108.90 198.42,101.67 198.70,95.00 C198.98,88.33 199.22,81.17 199.50,75.00 C199.78,68.83 200.12,64.92 200.40,58.00 C200.68,51.08 200.88,39.50 201.20,33.50 C201.52,27.50 201.93,24.85 202.30,22.00 C202.67,19.15 202.98,16.73 203.40,16.40 C203.82,16.07 204.15,17.52 204.80,20.00 C205.45,22.48 206.27,26.38 207.30,31.30 C208.33,36.22 209.88,43.43 211.00,49.50 C212.12,55.57 212.83,63.12 214.00,67.70 C215.17,72.28 216.78,73.28 218.00,77.00 C219.22,80.72 219.93,85.30 221.30,90.00 C222.67,94.70 224.75,101.70 226.20,105.20 C227.65,108.70 228.37,108.78 230.00,111.00 C231.63,113.22 234.12,117.17 236.00,118.50 C237.88,119.83 239.63,118.17 241.30,119.00 C242.97,119.83 244.10,122.50 246.00,123.50 C247.90,124.50 250.70,124.33 252.70,125.00 C254.70,125.67 255.78,126.72 258.00,127.50 C260.22,128.28 263.67,128.78 266.00,129.70 C268.33,130.62 269.67,131.95 272.00,133.00 C274.33,134.05 276.17,135.42 280.00,136.00 C283.83,136.58 289.33,136.33 295.00,136.50 C300.67,136.67 310.83,136.92 314.00,137.00" fill="none" stroke="#33dd33" stroke-width="1.25" stroke-linejoin="round"/>
<path d="M188.00,138.00 C188.25,137.83 189.00,140.00 189.50,137.00 C190.00,134.00 190.58,127.00 191.00,120.00 C191.42,113.00 191.58,104.67 192.00,95.00 C192.42,85.33 193.05,69.22 193.50,62.00 C193.95,54.78 194.28,54.45 194.70,51.70 C195.12,48.95 195.37,45.95 196.00,45.50 C196.63,45.05 197.28,46.42 198.50,49.00 C199.72,51.58 201.50,56.55 203.30,61.00 C205.10,65.45 207.30,70.15 209.30,75.70 C211.30,81.25 213.52,89.58 215.30,94.30 C217.08,99.02 217.88,101.05 220.00,104.00 C222.12,106.95 225.33,109.67 228.00,112.00 C230.67,114.33 233.17,116.17 236.00,118.00 C238.83,119.83 242.22,121.67 245.00,123.00 C247.78,124.33 249.70,124.92 252.70,126.00 C255.70,127.08 259.28,128.42 263.00,129.50 C266.72,130.58 270.50,131.67 275.00,132.50 C279.50,133.33 283.50,133.88 290.00,134.50 C296.50,135.12 310.00,135.92 314.00,136.20" fill="none" stroke="#e02222" stroke-width="1.25" stroke-linejoin="round"/>
<path d="M188.00,138.00 C188.25,137.83 188.92,140.83 189.50,137.00 C190.08,133.17 190.82,122.83 191.50,115.00 C192.18,107.17 193.02,100.00 193.60,90.00 C194.18,80.00 194.43,64.17 195.00,55.00 C195.57,45.83 196.28,39.30 197.00,35.00 C197.72,30.70 198.55,28.70 199.30,29.20 C200.05,29.70 200.78,34.53 201.50,38.00 C202.22,41.47 202.77,45.33 203.60,50.00 C204.43,54.67 205.52,61.33 206.50,66.00 C207.48,70.67 208.42,74.00 209.50,78.00 C210.58,82.00 211.92,86.50 213.00,90.00 C214.08,93.50 214.97,96.47 216.00,99.00 C217.03,101.53 218.03,103.45 219.20,105.20 C220.37,106.95 221.60,108.12 223.00,109.50 C224.40,110.88 225.43,111.92 227.60,113.50 C229.77,115.08 233.93,117.87 236.00,119.00 C238.07,120.13 238.33,119.47 240.00,120.30 C241.67,121.13 243.88,123.00 246.00,124.00 C248.12,125.00 249.87,125.47 252.70,126.30 C255.53,127.13 260.12,128.18 263.00,129.00 C265.88,129.82 267.42,130.48 270.00,131.20 C272.58,131.92 276.10,133.03 278.50,133.30 C280.90,133.57 282.08,132.53 284.40,132.80 C286.72,133.07 289.47,134.47 292.40,134.90 C295.33,135.33 298.40,135.13 302.00,135.40 C305.60,135.67 312.00,136.32 314.00,136.50" fill="none" stroke="#e02222" stroke-width="1.25" stroke-linejoin="round"/>
<path d="M187.40,137.50 C187.50,136.92 187.65,137.75 188.00,134.00 C188.35,130.25 188.92,122.33 189.50,115.00 C190.08,107.67 190.95,97.50 191.50,90.00 C192.05,82.50 192.30,76.67 192.80,70.00 C193.30,63.33 194.00,55.83 194.50,50.00 C195.00,44.17 195.30,38.73 195.80,35.00 C196.30,31.27 196.88,27.60 197.50,27.60 C198.12,27.60 198.75,31.27 199.50,35.00 C200.25,38.73 201.25,46.00 202.00,50.00 C202.75,54.00 203.33,56.05 204.00,59.00 C204.67,61.95 205.17,64.87 206.00,67.70 C206.83,70.53 207.88,72.78 209.00,76.00 C210.12,79.22 211.88,83.83 212.70,87.00 C213.52,90.17 213.38,91.73 213.90,95.00 C214.42,98.27 214.92,103.73 215.80,106.60 C216.68,109.47 217.93,111.50 219.20,112.20 C220.47,112.90 222.00,110.92 223.40,110.80 C224.80,110.68 226.33,111.10 227.60,111.50 C228.87,111.90 229.60,112.28 231.00,113.20 C232.40,114.12 234.50,115.28 236.00,117.00 C237.50,118.72 238.55,121.72 240.00,123.50 C241.45,125.28 242.58,126.78 244.70,127.70 C246.82,128.62 250.48,128.45 252.70,129.00 C254.92,129.55 256.23,130.33 258.00,131.00 C259.77,131.67 261.97,133.08 263.30,133.00 C264.63,132.92 264.55,130.67 266.00,130.50 C267.45,130.33 269.73,131.58 272.00,132.00 C274.27,132.42 277.08,132.25 279.60,133.00 C282.12,133.75 284.70,136.08 287.10,136.50 C289.50,136.92 291.52,135.85 294.00,135.50 C296.48,135.15 299.83,134.32 302.00,134.40 C304.17,134.48 305.57,135.40 307.00,136.00 C308.43,136.60 309.43,138.10 310.60,138.00 C311.77,137.90 313.43,135.83 314.00,135.40" fill="none" stroke="#2222d0" stroke-width="1.25" stroke-linejoin="round"/>
<line x1="187.0" y1="0.5" x2="314.5" y2="0.5" stroke="#111" stroke-width="1"/>
<line x1="187.0" y1="141.5" x2="314.5" y2="141.5" stroke="#111" stroke-width="1"/>
<line x1="314.5" y1="0.5" x2="314.5" y2="141.5" stroke="#111" stroke-width="1"/>
<line x1="187.0" y1="0.0" x2="187.0" y2="142.0" stroke="#777" stroke-width="1"/>
<line x1="189.50" y1="141.5" x2="189.50" y2="138.0" stroke="#111" stroke-width="1"/>
<text x="186.25" y="157.60" font-size="13" text-anchor="start" fill="#000" stroke="#000" stroke-width="0.22">0</text>
<line x1="251.30" y1="141.5" x2="251.30" y2="138.0" stroke="#111" stroke-width="1"/>
<text x="248.12" y="157.60" font-size="13" text-anchor="start" fill="#000" stroke="#000" stroke-width="0.22">2</text>
<line x1="313.10" y1="141.5" x2="313.10" y2="138.0" stroke="#111" stroke-width="1"/>
<text x="309.82" y="157.60" font-size="13" text-anchor="start" fill="#000" stroke="#000" stroke-width="0.22">4</text>
<line x1="187.0" y1="138.6" x2="191.0" y2="138.6" stroke="#111" stroke-width="1"/>
<text x="175.95" y="143.00" font-size="13" text-anchor="start" fill="#000" stroke="#000" stroke-width="0.22">0</text>
<line x1="187.0" y1="41.6" x2="191.0" y2="41.6" stroke="#111" stroke-width="1"/>
<text x="175.77" y="46.00" font-size="13" text-anchor="start" fill="#000" stroke="#000" stroke-width="0.22">1</text>
<text x="247.82" y="183.00" font-size="14" text-anchor="start" fill="#000" stroke="#000" stroke-width="0.22" font-style="italic">&#958;</text>
<text x="263.80" y="51.30" font-size="13" text-anchor="start" fill="#000" stroke="#000" stroke-width="0.22">&#916;</text>
<text x="272.85" y="51.30" font-size="13" text-anchor="start" fill="#000" stroke="#000" stroke-width="0.22">=</text>
<text x="279.26" y="51.30" font-size="13" text-anchor="start" fill="#000" stroke="#000" stroke-width="0.22">10</text>
<text x="291.92" y="48.00" font-size="10" text-anchor="start" fill="#000" stroke="#000" stroke-width="0.22">1</text>
<polygon points="339.00,137.48 339.25,136.56 339.50,135.00 339.75,133.16 340.00,131.24 340.25,129.29 340.50,127.29 340.75,125.28 341.00,123.25 341.25,121.20 341.50,119.15 341.75,117.08 342.00,115.00 342.25,113.05 342.50,111.15 342.75,109.34 343.00,107.51 343.25,105.66 343.50,103.62 343.75,101.37 344.00,98.86 344.25,95.64 344.50,91.32 344.75,85.53 345.00,78.10 345.25,69.62 345.50,62.00 345.75,56.18 346.00,51.02 346.25,46.03 346.50,40.26 346.75,34.30 347.00,30.00 347.25,26.84 347.50,24.08 347.75,21.78 348.00,20.05 348.25,19.00 348.50,18.65 348.75,18.79 349.00,19.26 349.25,19.92 349.50,20.69 349.75,21.51 350.00,22.70 350.25,24.32 350.50,26.00 350.75,27.19 351.00,28.00 351.25,28.95 351.50,30.00 351.75,31.21 352.00,31.30 352.25,31.62 352.50,32.08 352.75,32.62 353.00,33.30 353.25,34.01 353.50,34.77 353.75,35.57 354.00,36.37 354.25,37.19 354.50,38.00 354.75,38.82 355.00,39.64 355.25,40.49 355.50,41.34 355.75,42.22 356.00,43.11 356.25,44.01 356.50,44.93 356.75,45.86 357.00,46.82 357.25,47.78 357.50,48.79 357.75,49.80 358.00,50.88 358.25,51.98 358.50,53.14 358.75,54.34 359.00,55.56 359.25,56.80 359.50,58.04 359.75,59.28 360.00,60.49 360.25,61.67 360.50,62.82 360.75,63.91 361.00,65.00 361.25,66.03 361.50,67.06 361.75,68.08 362.00,69.10 362.25,70.12 362.50,71.10 362.75,72.08 363.00,73.06 363.25,73.98 363.50,74.91 363.75,75.81 364.00,76.65 364.25,77.49 364.50,78.26 364.75,78.98 365.00,79.70 365.25,80.21 365.50,80.72 365.75,81.09 366.00,81.38 366.25,81.62 366.50,81.79 366.75,81.95 367.00,82.09 367.25,82.25 367.50,82.49 367.75,82.73 368.00,83.17 368.25,83.61 368.50,84.21 368.75,84.85 369.00,85.56 369.25,86.32 369.50,87.10 369.75,87.94 370.00,88.79 370.25,89.69 370.50,90.58 370.75,91.50 371.00,92.42 371.25,93.35 371.50,94.26 371.75,95.19 372.00,96.16 372.25,97.12 372.50,98.17 372.75,99.22 373.00,100.29 373.25,101.37 373.50,102.42 373.75,103.47 374.00,104.47 374.25,105.43 374.50,106.36 374.75,107.18 375.00,108.00 375.25,108.66 375.50,109.32 375.75,109.90 376.00,110.45 376.25,110.97 376.50,111.44 376.75,111.91 377.00,112.33 377.25,112.55 377.50,112.77 377.75,112.98 378.00,113.15 378.25,113.33 378.50,113.50 378.75,113.63 379.00,113.76 379.25,113.89 379.50,114.00 379.75,114.11 380.00,114.22 380.25,114.31 380.50,114.41 380.75,114.50 381.00,114.58 381.25,114.66 381.50,114.74 381.75,114.80 382.00,114.86 382.25,114.92 382.50,114.96 382.75,114.99 383.00,114.94 383.25,114.76 383.50,114.41 383.75,114.07 384.00,113.97 384.25,114.00 384.50,114.18 384.75,114.36 385.00,114.64 385.25,114.93 385.50,115.22 385.75,115.54 386.00,115.90 386.25,116.25 386.50,116.60 386.75,116.96 387.00,117.33 387.25,117.70 387.50,118.07 387.75,118.44 388.00,118.81 388.25,119.18 388.50,119.55 388.75,119.91 389.00,120.28 389.25,120.63 389.50,120.97 389.75,121.32 390.00,121.67 390.25,122.01 390.50,122.31 390.75,122.41 391.00,122.48 391.25,122.55 391.50,122.62 391.75,122.69 392.00,122.77 392.25,122.85 392.50,122.93 392.75,123.00 393.00,123.09 393.25,123.19 393.50,123.28 393.75,123.38 394.00,123.51 394.25,123.66 394.50,123.81 394.75,124.04 395.00,124.30 395.25,124.61 395.50,124.91 395.75,125.17 396.00,125.38 396.25,125.54 396.50,125.66 396.75,125.78 397.00,125.85 397.25,125.91 397.50,125.97 397.75,126.03 398.00,126.06 398.25,126.09 398.50,126.12 398.75,126.15 399.00,126.18 399.25,126.20 399.50,126.22 399.75,126.24 400.00,126.26 400.25,126.28 400.50,126.31 400.75,126.33 401.00,126.36 401.25,126.39 401.50,126.43 401.75,126.47 402.00,126.51 402.25,126.56 402.50,126.60 402.75,126.66 403.00,126.73 403.25,126.80 403.50,126.86 403.75,126.93 404.00,126.85 404.25,126.65 404.50,126.45 404.75,126.25 405.00,126.07 405.25,125.88 405.50,125.69 405.75,125.53 406.00,125.41 406.25,125.28 406.50,125.15 406.75,125.07 407.00,125.05 407.25,125.03 407.50,125.01 407.75,125.08 408.00,125.22 408.25,125.37 408.50,125.51 408.75,125.79 409.00,126.08 409.25,126.37 409.50,126.70 409.75,127.07 410.00,127.44 410.25,127.80 410.50,128.17 410.75,128.53 411.00,128.89 411.25,129.19 411.50,129.47 411.75,129.75 412.00,130.01 412.25,130.16 412.50,130.31 412.75,130.45 413.00,130.60 413.25,130.61 413.50,130.62 413.75,130.63 414.00,130.64 414.25,130.62 414.50,130.55 414.75,130.48 415.00,130.41 415.25,130.34 415.50,130.27 415.75,130.16 416.00,130.06 416.25,129.95 416.50,129.85 416.75,129.74 417.00,129.64 417.25,129.53 417.50,129.43 417.75,129.32 418.00,129.22 418.25,129.12 418.50,129.05 418.75,128.98 419.00,128.91 419.25,128.84 419.50,128.77 419.75,128.76 420.00,128.77 420.25,128.78 420.50,128.79 420.75,128.80 421.00,128.90 421.25,129.03 421.50,129.16 421.75,129.29 422.00,129.45 422.25,129.67 422.50,129.90 422.75,130.13 423.00,130.36 423.25,130.65 423.50,130.94 423.75,131.23 424.00,131.52 424.25,131.83 424.50,132.14 424.75,132.45 425.00,132.75 425.25,133.04 425.50,133.32 425.75,133.51 426.00,133.56 426.25,133.59 426.50,133.57 426.75,133.54 427.00,133.46 427.25,133.33 427.50,133.18 427.75,133.00 428.00,132.83 428.25,132.68 428.50,132.58 428.75,132.50 429.00,132.42 429.25,132.41 429.50,132.41 429.75,132.40 430.00,132.40 430.25,132.44 430.50,132.49 430.75,132.53 431.00,132.58 431.25,132.62 431.50,132.69 431.75,132.75 432.00,132.82 432.25,132.89 432.50,132.95 432.75,133.02 433.00,133.09 433.25,133.16 433.50,133.24 433.75,133.32 434.00,133.39 434.25,133.47 434.50,133.54 434.75,133.62 435.00,133.69 435.25,133.77 435.50,133.84 435.75,133.92 436.00,133.99 436.25,134.07 436.50,134.14 436.75,134.21 437.00,134.28 437.25,134.35 437.50,134.42 437.75,134.49 438.00,134.56 438.25,134.62 438.50,134.68 438.75,134.73 439.00,134.79 439.25,134.84 439.50,134.89 439.75,134.95 440.00,135.00 440.25,135.01 440.50,135.03 440.75,135.04 441.00,135.05 441.25,135.07 441.50,135.08 441.75,135.11 442.00,135.13 442.25,135.15 442.50,135.18 442.75,135.20 443.00,135.23 443.25,135.26 443.50,135.29 443.75,135.32 444.00,135.35 444.25,135.38 444.50,135.41 444.75,135.44 445.00,135.47 445.25,135.50 445.50,135.53 445.75,135.56 446.00,135.59 446.25,135.62 446.50,135.65 446.75,135.68 447.00,135.71 447.25,135.74 447.50,135.75 447.75,135.76 448.00,135.77 448.25,135.78 448.50,135.78 448.75,135.79 449.00,135.79 449.25,135.79 449.50,135.79 449.75,135.80 450.00,135.80 450.25,135.79 450.50,135.78 450.75,135.77 451.00,135.76 451.25,135.75 451.50,135.74 451.75,135.72 452.00,135.70 452.25,135.67 452.50,135.65 452.75,135.62 453.00,135.60 453.25,135.57 453.50,135.55 453.75,135.51 454.00,135.48 454.25,135.45 454.50,135.42 454.75,135.39 455.00,135.36 455.25,135.33 455.50,135.29 455.75,135.26 456.00,135.23 456.25,135.20 456.50,135.17 456.75,135.14 457.00,135.12 457.25,135.10 457.50,135.08 457.75,135.06 458.00,135.04 458.25,135.02 458.50,135.00 458.75,134.99 459.00,134.99 459.25,134.99 459.50,135.00 459.75,135.00 460.00,135.00 460.25,135.04 460.50,135.07 460.75,135.11 461.00,135.15 461.25,135.19 461.50,135.25 461.75,135.32 462.00,135.39 462.25,135.46 462.50,135.53 462.75,135.62 463.00,135.71 463.25,135.81 463.50,135.90 463.75,136.01 464.00,136.12 464.25,136.23 464.50,136.34 464.75,136.45 465.00,136.57 465.25,136.68 465.50,136.79 465.75,136.90 466.00,137.00 466.00,141.0 339.00,141.0" fill="#f6ecea"/>
<polygon points="339.00,137.50 339.25,137.50 339.50,137.50 339.75,137.50 340.00,137.50 340.25,137.13 340.50,136.60 340.75,135.58 341.00,134.00 341.25,131.91 341.50,129.56 341.75,127.09 342.00,124.59 342.25,122.07 342.50,119.63 342.75,117.28 343.00,115.00 343.25,112.96 343.50,110.98 343.75,109.08 344.00,107.22 344.25,105.38 344.50,103.48 344.75,101.54 345.00,99.50 345.25,97.31 345.50,95.00 345.75,92.37 346.00,89.60 346.25,86.69 346.50,83.59 346.75,80.35 347.00,76.99 347.25,73.54 347.50,70.00 347.75,66.11 348.00,61.76 348.25,57.14 348.50,52.56 348.75,48.39 349.00,45.00 349.25,42.39 349.50,40.32 349.75,38.67 350.00,37.31 350.25,36.13 350.50,35.00 350.75,33.85 351.00,32.78 351.25,31.96 351.50,33.16 351.75,34.95 352.00,36.70 352.25,38.45 352.50,40.22 352.75,41.98 353.00,43.72 353.25,45.40 353.50,47.00 353.75,48.52 354.00,50.00 354.25,51.43 354.50,52.86 354.75,54.29 355.00,55.89 355.25,57.60 355.50,59.22 355.75,60.61 356.00,62.00 356.25,63.03 356.50,64.05 356.75,64.94 357.00,65.73 357.25,66.51 357.50,67.16 357.75,67.80 358.00,68.43 358.25,69.02 358.50,69.60 358.75,70.20 359.00,70.81 359.25,71.41 359.50,72.09 359.75,72.80 360.00,73.50 360.25,74.31 360.50,75.11 360.75,75.93 361.00,76.78 361.25,77.62 361.50,78.48 361.75,79.35 362.00,80.22 362.25,81.09 362.50,81.96 362.75,82.82 363.00,83.67 363.25,84.53 363.50,85.36 363.75,86.18 364.00,87.14 364.25,88.19 364.50,89.20 364.75,90.17 365.00,91.03 365.25,91.88 365.50,92.66 365.75,93.42 366.00,94.20 366.25,94.94 366.50,95.58 366.75,96.29 367.00,97.01 367.25,97.75 367.50,98.53 367.75,99.33 368.00,100.26 368.25,101.26 368.50,102.57 368.75,104.18 369.00,106.11 369.25,108.21 369.50,110.12 369.75,111.50 370.00,112.34 370.25,112.93 370.50,113.09 370.75,113.15 371.00,112.95 371.25,112.73 371.50,112.37 371.75,112.01 372.00,111.63 372.25,111.24 372.50,110.90 372.75,110.61 373.00,110.80 373.25,111.07 373.50,111.34 373.75,111.62 374.00,111.89 374.25,112.16 374.50,112.34 374.75,112.51 375.00,112.69 375.25,112.86 375.50,113.04 375.75,113.21 376.00,113.34 376.25,113.46 376.50,113.58 376.75,113.71 377.00,113.83 377.25,113.96 377.50,114.06 377.75,114.16 378.00,114.26 378.25,114.54 378.50,115.00 378.75,115.56 379.00,116.12 379.25,116.78 379.50,117.43 379.75,118.09 380.00,118.66 380.25,119.17 380.50,119.58 380.75,119.94 381.00,120.19 381.25,120.45 381.50,120.61 381.75,120.74 382.00,120.88 382.25,120.96 382.50,121.02 382.75,121.09 383.00,121.14 383.25,121.16 383.50,121.19 383.75,121.21 384.00,121.23 384.25,121.24 384.50,121.25 384.75,121.26 385.00,121.27 385.25,121.29 385.50,121.30 385.75,121.32 386.00,121.34 386.25,121.38 386.50,121.42 386.75,121.46 387.00,121.50 387.25,121.56 387.50,121.62 387.75,121.67 388.00,121.73 388.25,121.79 388.50,121.97 388.75,122.18 389.00,122.40 389.25,122.61 389.50,122.82 389.75,123.03 390.00,123.23 390.25,123.42 390.50,123.61 390.75,123.81 391.00,124.00 391.25,124.17 391.50,124.35 391.75,124.52 392.00,124.69 392.25,124.87 392.50,125.03 392.75,125.19 393.00,125.35 393.25,125.51 393.50,125.67 393.75,125.82 394.00,126.05 394.25,126.28 394.50,126.51 394.75,126.74 395.00,126.97 395.25,127.18 395.50,127.38 395.75,127.59 396.00,127.79 396.25,127.99 396.50,128.17 396.75,128.34 397.00,128.51 397.25,128.68 397.50,128.85 397.75,128.98 398.00,129.10 398.25,129.23 398.50,129.35 398.75,129.42 399.00,129.46 399.25,129.50 399.50,129.54 399.75,129.53 400.00,129.48 400.25,129.42 400.50,129.37 400.75,129.27 401.00,129.16 401.25,129.05 401.50,128.94 401.75,128.96 402.00,129.00 402.25,129.04 402.50,129.09 402.75,129.13 403.00,129.19 403.25,129.24 403.50,129.29 403.75,129.35 404.00,129.40 404.25,129.46 404.50,129.52 404.75,129.58 405.00,129.64 405.25,129.70 405.50,129.76 405.75,129.82 406.00,129.89 406.25,130.05 406.50,130.36 406.75,130.66 407.00,130.95 407.25,131.25 407.50,131.50 407.75,131.75 408.00,132.00 408.25,132.23 408.50,132.46 408.75,132.69 409.00,132.93 409.25,133.17 409.50,133.42 409.75,133.66 410.00,133.89 410.25,134.13 410.50,134.37 410.75,134.59 411.00,134.80 411.25,135.01 411.50,135.22 411.75,135.38 412.00,135.55 412.25,135.72 412.50,135.82 412.75,135.91 413.00,136.00 413.25,135.95 413.50,135.90 413.75,135.75 414.00,135.52 414.25,135.21 414.50,134.84 414.75,134.44 415.00,134.05 415.25,133.71 415.50,133.41 415.75,133.21 416.00,133.00 416.25,132.88 416.50,132.75 416.75,132.64 417.00,132.67 417.25,132.77 417.50,132.87 417.75,132.96 418.00,133.05 418.25,133.14 418.50,133.23 418.75,133.32 419.00,133.40 419.25,133.48 419.50,133.57 419.75,133.64 420.00,133.71 420.25,133.78 420.50,133.85 420.75,133.92 421.00,133.98 421.25,134.03 421.50,134.09 421.75,134.14 422.00,134.20 422.25,134.24 422.50,134.28 422.75,134.32 423.00,134.36 423.25,134.40 423.50,134.43 423.75,134.45 424.00,134.48 424.25,134.50 424.50,134.52 424.75,134.53 425.00,134.55 425.25,134.56 425.50,134.57 425.75,134.58 426.00,134.59 426.25,134.60 426.50,134.61 426.75,134.62 427.00,134.63 427.25,134.73 427.50,134.86 427.75,134.98 428.00,135.07 428.25,135.15 428.50,135.24 428.75,135.29 429.00,135.33 429.25,135.38 429.50,135.41 429.75,135.43 430.00,135.44 430.25,135.46 430.50,135.46 430.75,135.47 431.00,135.48 431.25,135.48 431.50,135.49 431.75,135.49 432.00,135.50 432.25,135.50 432.50,135.49 432.75,135.49 433.00,135.49 433.25,135.48 433.50,135.46 433.75,135.44 434.00,135.42 434.25,135.40 434.50,135.38 434.75,135.35 435.00,135.34 435.25,135.36 435.50,135.38 435.75,135.41 436.00,135.43 436.25,135.46 436.50,135.48 436.75,135.50 437.00,135.52 437.25,135.54 437.50,135.56 437.75,135.58 438.00,135.60 438.25,135.62 438.50,135.64 438.75,135.66 439.00,135.69 439.25,135.71 439.50,135.73 439.75,135.75 440.00,135.77 440.25,135.79 440.50,135.80 440.75,135.82 441.00,135.84 441.25,135.86 441.50,135.88 441.75,135.90 442.00,135.92 442.25,135.94 442.50,135.95 442.75,135.97 443.00,135.99 443.25,136.01 443.50,136.03 443.75,136.05 444.00,136.07 444.25,136.08 444.50,136.10 444.75,136.12 445.00,136.14 445.25,136.16 445.50,136.17 445.75,136.19 446.00,136.21 446.25,136.23 446.50,136.25 446.75,136.26 447.00,136.28 447.25,136.30 447.50,136.32 447.75,136.34 448.00,136.35 448.25,136.37 448.50,136.39 448.75,136.41 449.00,136.43 449.25,136.45 449.50,136.46 449.75,136.48 450.00,136.50 450.25,136.52 450.50,136.54 450.75,136.55 451.00,136.57 451.25,136.59 451.50,136.61 451.75,136.62 452.00,136.64 452.25,136.66 452.50,136.68 452.75,136.70 453.00,136.71 453.25,136.73 453.50,136.75 453.75,136.76 454.00,136.78 454.25,136.79 454.50,136.81 454.75,136.83 455.00,136.84 455.25,136.86 455.50,136.88 455.75,136.89 456.00,136.91 456.25,136.92 456.50,136.94 456.75,136.95 457.00,136.97 457.25,136.98 457.50,137.00 457.75,137.02 458.00,137.03 458.25,137.05 458.50,137.06 458.75,137.08 459.00,137.09 459.25,137.11 459.50,137.12 459.75,137.14 460.00,137.15 460.25,137.16 460.50,137.18 460.75,137.20 461.00,137.22 461.25,137.24 461.50,137.26 461.75,137.28 462.00,137.30 462.25,137.32 462.50,137.33 462.75,137.35 463.00,137.37 463.25,137.39 463.50,137.41 463.75,137.43 464.00,137.45 464.25,137.47 464.50,137.49 464.75,137.51 465.00,137.52 465.25,137.54 465.50,137.56 465.75,137.58 466.00,137.60 466.00,141.0 339.00,141.0" fill="#eae6d8"/>
<path d="M340.00,137.50 C340.17,136.92 340.50,137.75 341.00,134.00 C341.50,130.25 342.25,121.50 343.00,115.00 C343.75,108.50 344.75,102.50 345.50,95.00 C346.25,87.50 346.92,78.33 347.50,70.00 C348.08,61.67 348.50,50.83 349.00,45.00 C349.50,39.17 350.00,37.28 350.50,35.00 C351.00,32.72 351.33,30.80 352.00,31.30 C352.67,31.80 353.53,34.88 354.50,38.00 C355.47,41.12 356.72,45.50 357.80,50.00 C358.88,54.50 359.80,60.05 361.00,65.00 C362.20,69.95 363.78,76.58 365.00,79.70 C366.22,82.82 367.18,81.15 368.30,83.70 C369.42,86.25 370.58,90.95 371.70,95.00 C372.82,99.05 373.87,104.67 375.00,108.00 C376.13,111.33 377.45,112.92 378.50,115.00 C379.55,117.08 379.88,119.42 381.30,120.50 C382.72,121.58 384.92,121.02 387.00,121.50 C389.08,121.98 392.17,122.68 393.80,123.40 C395.43,124.12 395.10,125.20 396.80,125.80 C398.50,126.40 401.00,126.00 404.00,127.00 C407.00,128.00 411.80,130.60 414.80,131.80 C417.80,133.00 419.47,133.70 422.00,134.20 C424.53,134.70 426.17,134.50 430.00,134.80 C433.83,135.10 439.00,135.53 445.00,136.00 C451.00,136.47 462.50,137.33 466.00,137.60" fill="none" stroke="#33dd33" stroke-width="1.25" stroke-linejoin="round"/>
<path d="M339.50,137.50 C339.67,136.75 340.00,136.75 340.50,133.00 C341.00,129.25 341.78,121.83 342.50,115.00 C343.22,108.17 344.25,100.83 344.80,92.00 C345.35,83.17 345.52,69.00 345.80,62.00 C346.08,55.00 346.13,54.33 346.50,50.00 C346.87,45.67 347.37,39.28 348.00,36.00 C348.63,32.72 349.47,30.13 350.30,30.30 C351.13,30.47 352.10,34.55 353.00,37.00 C353.90,39.45 354.70,40.33 355.70,45.00 C356.70,49.67 357.90,59.88 359.00,65.00 C360.10,70.12 361.13,70.83 362.30,75.70 C363.47,80.57 365.02,90.65 366.00,94.20 C366.98,97.75 367.03,94.23 368.20,97.00 C369.37,99.77 370.82,107.70 373.00,110.80 C375.18,113.90 379.53,114.60 381.30,115.60 C383.07,116.60 382.02,115.60 383.60,116.80 C385.18,118.00 388.73,121.18 390.80,122.80 C392.87,124.42 394.20,125.60 396.00,126.50 C397.80,127.40 399.67,128.45 401.60,128.20 C403.53,127.95 405.70,124.60 407.60,125.00 C409.50,125.40 410.80,129.97 413.00,130.60 C415.20,131.23 418.50,128.15 420.80,128.80 C423.10,129.45 424.93,133.38 426.80,134.50 C428.67,135.62 429.80,135.42 432.00,135.50 C434.20,135.58 437.00,134.92 440.00,135.00 C443.00,135.08 445.67,135.67 450.00,136.00 C454.33,136.33 463.33,136.83 466.00,137.00" fill="none" stroke="#e02222" stroke-width="1.25" stroke-linejoin="round"/>
<path d="M339.00,137.50 C339.17,136.92 339.42,137.75 340.00,134.00 C340.58,130.25 341.70,121.50 342.50,115.00 C343.30,108.50 344.22,103.83 344.80,95.00 C345.38,86.17 345.63,70.33 346.00,62.00 C346.37,53.67 346.67,49.83 347.00,45.00 C347.33,40.17 347.53,36.17 348.00,33.00 C348.47,29.83 349.22,26.50 349.80,26.00 C350.38,25.50 350.97,27.67 351.50,30.00 C352.03,32.33 352.25,34.67 353.00,40.00 C353.75,45.33 354.83,56.42 356.00,62.00 C357.17,67.58 358.67,69.33 360.00,73.50 C361.33,77.67 362.63,82.63 364.00,87.00 C365.37,91.37 366.95,96.53 368.20,99.70 C369.45,102.87 370.37,103.92 371.50,106.00 C372.63,108.08 373.13,110.37 375.00,112.20 C376.87,114.03 380.03,115.03 382.70,117.00 C385.37,118.97 388.45,122.17 391.00,124.00 C393.55,125.83 395.83,127.10 398.00,128.00 C400.17,128.90 401.17,128.73 404.00,129.40 C406.83,130.07 410.67,131.10 415.00,132.00 C419.33,132.90 424.17,134.05 430.00,134.80 C435.83,135.55 444.00,136.05 450.00,136.50 C456.00,136.95 463.33,137.33 466.00,137.50" fill="none" stroke="#2222d0" stroke-width="1.25" stroke-linejoin="round"/>
<path d="M338.80,137.50 C338.92,137.08 338.97,138.75 339.50,135.00 C340.03,131.25 341.20,121.67 342.00,115.00 C342.80,108.33 343.72,103.83 344.30,95.00 C344.88,86.17 345.17,70.33 345.50,62.00 C345.83,53.67 346.05,50.33 346.30,45.00 C346.55,39.67 346.68,34.32 347.00,30.00 C347.32,25.68 347.77,20.60 348.20,19.10 C348.63,17.60 349.22,19.85 349.60,21.00 C349.98,22.15 350.10,23.38 350.50,26.00 C350.90,28.62 351.42,32.70 352.00,36.70 C352.58,40.70 353.17,45.28 354.00,50.00 C354.83,54.72 355.83,60.95 357.00,65.00 C358.17,69.05 359.72,70.13 361.00,74.30 C362.28,78.47 363.50,85.55 364.70,90.00 C365.90,94.45 367.28,97.18 368.20,101.00 C369.12,104.82 369.28,111.40 370.20,112.90 C371.12,114.40 372.32,109.90 373.70,110.00 C375.08,110.10 377.00,112.67 378.50,113.50 C380.00,114.33 381.65,114.85 382.70,115.00 C383.75,115.15 383.35,113.00 384.80,114.40 C386.25,115.80 389.10,120.90 391.40,123.40 C393.70,125.90 396.50,128.60 398.60,129.40 C400.70,130.20 402.43,127.77 404.00,128.20 C405.57,128.63 406.50,130.70 408.00,132.00 C409.50,133.30 411.67,135.83 413.00,136.00 C414.33,136.17 414.70,133.70 416.00,133.00 C417.30,132.30 419.10,131.70 420.80,131.80 C422.50,131.90 424.67,133.50 426.20,133.60 C427.73,133.70 427.70,132.17 430.00,132.40 C432.30,132.63 436.67,134.43 440.00,135.00 C443.33,135.57 446.67,135.80 450.00,135.80 C453.33,135.80 457.33,134.80 460.00,135.00 C462.67,135.20 465.00,136.67 466.00,137.00" fill="none" stroke="#2222d0" stroke-width="1.25" stroke-linejoin="round"/>
<line x1="338.5" y1="0.5" x2="466.5" y2="0.5" stroke="#111" stroke-width="1"/>
<line x1="338.5" y1="141.5" x2="466.5" y2="141.5" stroke="#111" stroke-width="1"/>
<line x1="466.5" y1="0.5" x2="466.5" y2="141.5" stroke="#111" stroke-width="1"/>
<line x1="338.5" y1="0.0" x2="338.5" y2="142.0" stroke="#111" stroke-width="1"/>
<line x1="340.50" y1="141.5" x2="340.50" y2="138.0" stroke="#111" stroke-width="1"/>
<text x="337.25" y="157.60" font-size="13" text-anchor="start" fill="#000" stroke="#000" stroke-width="0.22">0</text>
<line x1="402.50" y1="141.5" x2="402.50" y2="138.0" stroke="#111" stroke-width="1"/>
<text x="399.32" y="157.60" font-size="13" text-anchor="start" fill="#000" stroke="#000" stroke-width="0.22">2</text>
<line x1="464.50" y1="141.5" x2="464.50" y2="138.0" stroke="#111" stroke-width="1"/>
<text x="461.22" y="157.60" font-size="13" text-anchor="start" fill="#000" stroke="#000" stroke-width="0.22">4</text>
<line x1="338.5" y1="138.6" x2="342.5" y2="138.6" stroke="#111" stroke-width="1"/>
<text x="327.45" y="143.00" font-size="13" text-anchor="start" fill="#000" stroke="#000" stroke-width="0.22">0</text>
<line x1="338.5" y1="41.6" x2="342.5" y2="41.6" stroke="#111" stroke-width="1"/>
<text x="327.27" y="46.00" font-size="13" text-anchor="start" fill="#000" stroke="#000" stroke-width="0.22">1</text>
<text x="399.57" y="183.00" font-size="14" text-anchor="start" fill="#000" stroke="#000" stroke-width="0.22" font-style="italic">&#958;</text>
<text x="415.30" y="51.30" font-size="13" text-anchor="start" fill="#000" stroke="#000" stroke-width="0.22">&#916;</text>
<text x="424.35" y="51.30" font-size="13" text-anchor="start" fill="#000" stroke="#000" stroke-width="0.22">=</text>
<text x="430.76" y="51.30" font-size="13" text-anchor="start" fill="#000" stroke="#000" stroke-width="0.22">10</text>
<text x="443.86" y="48.00" font-size="10" text-anchor="start" fill="#000" stroke="#000" stroke-width="0.22">2</text>
<text x="75.95" y="26.60" font-size="13" text-anchor="start" fill="#000" stroke="#000" stroke-width="0.45" font-style="italic">T</text>
<text x="84.25" y="26.60" font-size="13" text-anchor="start" fill="#555" stroke="#555" stroke-width="0.22">=</text>
<text x="92.26" y="26.60" font-size="13" text-anchor="start" fill="#33d633" stroke="#33d633" stroke-width="0.22">10</text>
<text x="105.55" y="21.20" font-size="9.5" text-anchor="start" fill="#33d633" stroke="#33d633" stroke-width="0.22">3</text>
<text x="114.16" y="26.60" font-size="13" text-anchor="start" fill="#d42525" stroke="#d42525" stroke-width="0.22">10</text>
<text x="127.41" y="21.20" font-size="9.5" text-anchor="start" fill="#d42525" stroke="#d42525" stroke-width="0.22">4</text>
<text x="136.46" y="26.60" font-size="13" text-anchor="start" fill="#2525c8" stroke="#2525c8" stroke-width="0.22">10</text>
<text x="149.05" y="21.20" font-size="9.5" text-anchor="start" fill="#2525c8" stroke="#2525c8" stroke-width="0.22">5</text>
<text x="110.73" y="26.60" font-size="13" text-anchor="start" fill="#000" stroke="#000" stroke-width="0.22">;</text>
<text x="132.53" y="26.60" font-size="13" text-anchor="start" fill="#000" stroke="#000" stroke-width="0.22">;</text>
<g transform="translate(11.2,81.4) rotate(-90)"><text x="-0.10" y="0.00" font-size="13" text-anchor="start" fill="#000" stroke="#000" stroke-width="0.22" font-style="italic">&#981;</text><text x="6.33" y="0.00" font-size="13" text-anchor="start" fill="#000" stroke="#000" stroke-width="0.22">(</text><text x="10.46" y="0.00" font-size="13" text-anchor="start" fill="#000" stroke="#000" stroke-width="0.22" font-style="italic">&#958;</text><text x="16.18" y="0.00" font-size="13" text-anchor="start" fill="#000" stroke="#000" stroke-width="0.22">)</text></g>
<rect x="46.50" y="246.00" width="3.46" height="81.50" fill="#8686ec" stroke="#5252a8" stroke-width="0.8"/>
<rect x="49.96" y="210.00" width="3.46" height="117.50" fill="#8686ec" stroke="#5252a8" stroke-width="0.8"/>
<rect x="53.42" y="244.00" width="3.46" height="83.50" fill="#8686ec" stroke="#5252a8" stroke-width="0.8"/>
<rect x="56.88" y="274.00" width="3.46" height="53.50" fill="#8686ec" stroke="#5252a8" stroke-width="0.8"/>
<rect x="60.34" y="288.00" width="3.46" height="39.50" fill="#8686ec" stroke="#5252a8" stroke-width="0.8"/>
<rect x="63.80" y="298.00" width="3.46" height="29.50" fill="#8686ec" stroke="#5252a8" stroke-width="0.8"/>
<rect x="67.26" y="302.60" width="3.46" height="24.90" fill="#8686ec" stroke="#5252a8" stroke-width="0.8"/>
<rect x="70.72" y="307.00" width="3.46" height="20.50" fill="#8686ec" stroke="#5252a8" stroke-width="0.8"/>
<rect x="74.18" y="311.20" width="3.46" height="16.30" fill="#8686ec" stroke="#5252a8" stroke-width="0.8"/>
<rect x="77.64" y="317.20" width="3.46" height="10.30" fill="#8686ec" stroke="#5252a8" stroke-width="0.8"/>
<rect x="81.10" y="316.40" width="3.46" height="11.10" fill="#8686ec" stroke="#5252a8" stroke-width="0.8"/>
<rect x="84.56" y="321.20" width="3.46" height="6.30" fill="#8686ec" stroke="#5252a8" stroke-width="0.8"/>
<rect x="88.02" y="320.00" width="3.46" height="7.50" fill="#8686ec" stroke="#5252a8" stroke-width="0.8"/>
<rect x="91.48" y="322.80" width="3.46" height="4.70" fill="#8686ec" stroke="#5252a8" stroke-width="0.8"/>
<rect x="94.94" y="323.00" width="3.46" height="4.50" fill="#8686ec" stroke="#5252a8" stroke-width="0.8"/>
<rect x="98.40" y="321.80" width="3.46" height="5.70" fill="#8686ec" stroke="#5252a8" stroke-width="0.8"/>
<rect x="101.86" y="323.50" width="3.46" height="4.00" fill="#8686ec" stroke="#5252a8" stroke-width="0.8"/>
<rect x="105.32" y="323.80" width="3.46" height="3.70" fill="#8686ec" stroke="#5252a8" stroke-width="0.8"/>
<rect x="108.78" y="323.50" width="3.46" height="4.00" fill="#8686ec" stroke="#5252a8" stroke-width="0.8"/>
<rect x="112.24" y="325.00" width="3.46" height="2.50" fill="#8686ec" stroke="#5252a8" stroke-width="0.8"/>
<rect x="115.70" y="325.20" width="3.46" height="2.30" fill="#8686ec" stroke="#5252a8" stroke-width="0.8"/>
<rect x="119.16" y="325.50" width="3.46" height="2.00" fill="#8686ec" stroke="#5252a8" stroke-width="0.8"/>
<rect x="122.62" y="325.80" width="3.46" height="1.70" fill="#8686ec" stroke="#5252a8" stroke-width="0.8"/>
<rect x="126.08" y="326.00" width="3.46" height="1.50" fill="#8686ec" stroke="#5252a8" stroke-width="0.8"/>
<rect x="129.54" y="326.20" width="3.46" height="1.30" fill="#8686ec" stroke="#5252a8" stroke-width="0.8"/>
<rect x="133.00" y="326.40" width="3.46" height="1.10" fill="#8686ec" stroke="#5252a8" stroke-width="0.8"/>
<rect x="136.46" y="326.60" width="3.46" height="0.90" fill="#8686ec" stroke="#5252a8" stroke-width="0.8"/>
<rect x="139.92" y="326.30" width="3.46" height="1.20" fill="#8686ec" stroke="#5252a8" stroke-width="0.8"/>
<rect x="143.38" y="326.50" width="3.46" height="1.00" fill="#8686ec" stroke="#5252a8" stroke-width="0.8"/>
<rect x="146.84" y="326.80" width="3.46" height="0.70" fill="#8686ec" stroke="#5252a8" stroke-width="0.8"/>
<path d="M46.40,327.50 C46.48,322.92 46.72,308.58 46.90,300.00 C47.08,291.42 47.25,284.33 47.50,276.00 C47.75,267.67 48.08,258.17 48.40,250.00 C48.72,241.83 49.02,233.13 49.40,227.00 C49.78,220.87 50.23,214.20 50.70,213.20 C51.17,212.20 51.73,217.20 52.20,221.00 C52.67,224.80 52.95,230.50 53.50,236.00 C54.05,241.50 54.77,248.33 55.50,254.00 C56.23,259.67 56.98,265.20 57.90,270.00 C58.82,274.80 59.77,278.35 61.00,282.80 C62.23,287.25 63.97,293.33 65.30,296.70 C66.63,300.07 67.75,301.23 69.00,303.00 C70.25,304.77 71.03,305.40 72.80,307.30 C74.57,309.20 77.40,312.55 79.60,314.40 C81.80,316.25 84.13,317.33 86.00,318.40 C87.87,319.47 88.47,320.10 90.80,320.80 C93.13,321.50 95.97,321.87 100.00,322.60 C104.03,323.33 108.38,324.48 115.00,325.20 C121.62,325.92 135.58,326.62 139.70,326.90" fill="none" stroke="#1515dd" stroke-width="1.3"/>
<line x1="44.5" y1="201.5" x2="152.0" y2="201.5" stroke="#111" stroke-width="1"/>
<line x1="44.5" y1="330.5" x2="152.0" y2="330.5" stroke="#111" stroke-width="1"/>
<line x1="152.0" y1="201.5" x2="152.0" y2="330.5" stroke="#111" stroke-width="1"/>
<line x1="44.5" y1="201.0" x2="44.5" y2="331.0" stroke="#111" stroke-width="1"/>
<line x1="45.60" y1="330.5" x2="45.60" y2="327.5" stroke="#111"/>
<text x="42.95" y="347.00" font-size="13" text-anchor="start" fill="#000" stroke="#000" stroke-width="0.22">0</text>
<line x1="80.20" y1="330.5" x2="80.20" y2="327.5" stroke="#111"/>
<text x="73.98" y="347.00" font-size="13" text-anchor="start" fill="#000" stroke="#000" stroke-width="0.22">10</text>
<line x1="114.80" y1="330.5" x2="114.80" y2="327.5" stroke="#111"/>
<text x="108.86" y="347.00" font-size="13" text-anchor="start" fill="#000" stroke="#000" stroke-width="0.22">20</text>
<line x1="149.40" y1="330.5" x2="149.40" y2="327.5" stroke="#111"/>
<text x="143.44" y="347.00" font-size="13" text-anchor="start" fill="#000" stroke="#000" stroke-width="0.22">30</text>
<line x1="44.5" y1="327.8" x2="48.0" y2="327.8" stroke="#111"/>
<text x="33.60" y="332.20" font-size="13" text-anchor="start" fill="#000" stroke="#000" stroke-width="0.22">0</text>
<line x1="44.5" y1="276.2" x2="48.0" y2="276.2" stroke="#111"/>
<text x="24.13" y="280.60" font-size="13" text-anchor="start" fill="#000" stroke="#000" stroke-width="0.22">0.1</text>
<line x1="44.5" y1="224.8" x2="48.0" y2="224.8" stroke="#111"/>
<text x="24.07" y="229.20" font-size="13" text-anchor="start" fill="#000" stroke="#000" stroke-width="0.22">0.2</text>
<text x="91.55" y="370.80" font-size="13" text-anchor="start" fill="#000" stroke="#000" stroke-width="0.22" font-style="italic">D</text>
<text x="100.55" y="373.80" font-size="8.5" text-anchor="start" fill="#000" stroke="#000" stroke-width="0.22">1</text>
<g transform="translate(9.8,281.2) rotate(-90)"><text x="0.15" y="0.00" font-size="13" text-anchor="start" fill="#000" stroke="#000" stroke-width="0.22" font-style="italic">f</text><text x="6.23" y="0.00" font-size="13" text-anchor="start" fill="#000" stroke="#000" stroke-width="0.22">(</text><text x="10.35" y="0.00" font-size="13" text-anchor="start" fill="#000" stroke="#000" stroke-width="0.5" font-style="italic">D</text><text x="20.67" y="2.80" font-size="9.5" text-anchor="start" fill="#000" stroke="#000" stroke-width="0.22">1</text><text x="26.38" y="0.00" font-size="13" text-anchor="start" fill="#000" stroke="#000" stroke-width="0.22">)</text></g>
<rect x="212.90" y="226.80" width="15.05" height="97.70" fill="#0000f5" stroke="#7070e0" stroke-width="0.6"/>
<rect x="227.95" y="233.02" width="8.80" height="91.48" fill="#0000f5" stroke="#7070e0" stroke-width="0.6"/>
<rect x="236.75" y="234.48" width="6.25" height="90.02" fill="#0000f5" stroke="#7070e0" stroke-width="0.6"/>
<rect x="243.00" y="242.34" width="4.85" height="82.16" fill="#0000f5" stroke="#7070e0" stroke-width="0.6"/>
<rect x="247.85" y="247.03" width="3.96" height="77.47" fill="#0a0ae0" stroke="#6a6ad0" stroke-width="0.6"/>
<rect x="251.80" y="250.69" width="3.35" height="73.81" fill="#0a0ae0" stroke="#6a6ad0" stroke-width="0.6"/>
<rect x="255.15" y="255.72" width="2.90" height="68.78" fill="#0a0ae0" stroke="#6a6ad0" stroke-width="0.6"/>
<rect x="258.05" y="255.72" width="2.56" height="68.78" fill="#0a0ae0" stroke="#6a6ad0" stroke-width="0.6"/>
<rect x="260.61" y="259.01" width="2.29" height="65.49" fill="#0a0ae0" stroke="#6a6ad0" stroke-width="0.6"/>
<rect x="262.90" y="263.00" width="2.07" height="61.50" fill="#2020b8" stroke="#5a5aa8" stroke-width="0.6"/>
<rect x="264.97" y="264.82" width="1.89" height="59.68" fill="#2020b8" stroke="#5a5aa8" stroke-width="0.6"/>
<rect x="266.86" y="269.69" width="1.74" height="54.81" fill="#2020b8" stroke="#5a5aa8" stroke-width="0.6"/>
<rect x="268.59" y="270.37" width="1.61" height="54.13" fill="#2020b8" stroke="#5a5aa8" stroke-width="0.6"/>
<rect x="270.20" y="274.15" width="1.50" height="50.35" fill="#35358f" stroke="#555580" stroke-width="0.6"/>
<rect x="271.70" y="274.15" width="1.40" height="50.35" fill="#35358f" stroke="#555580" stroke-width="0.6"/>
<rect x="273.10" y="274.60" width="1.32" height="49.90" fill="#35358f" stroke="#555580" stroke-width="0.6"/>
<rect x="274.42" y="282.39" width="1.24" height="42.11" fill="#35358f" stroke="#555580" stroke-width="0.6"/>
<rect x="275.66" y="278.00" width="1.52" height="46.50" fill="#555555"/>
<rect x="276.83" y="278.00" width="1.46" height="46.50" fill="#555555"/>
<rect x="277.95" y="278.00" width="1.41" height="46.50" fill="#555555"/>
<rect x="279.01" y="282.39" width="1.36" height="42.11" fill="#555555"/>
<rect x="280.02" y="292.95" width="1.32" height="31.55" fill="#555555"/>
<rect x="280.98" y="282.39" width="1.27" height="42.11" fill="#555555"/>
<rect x="281.91" y="282.39" width="1.24" height="42.11" fill="#555555"/>
<rect x="282.79" y="282.39" width="1.20" height="42.11" fill="#555555"/>
<rect x="283.65" y="285.17" width="1.17" height="39.33" fill="#555555"/>
<rect x="284.47" y="285.17" width="1.14" height="39.33" fill="#555555"/>
<rect x="285.25" y="285.17" width="1.11" height="39.33" fill="#555555"/>
<rect x="286.02" y="288.57" width="1.09" height="35.93" fill="#555555"/>
<rect x="286.75" y="299.13" width="1.06" height="25.37" fill="#555555"/>
<rect x="287.47" y="309.70" width="1.04" height="14.80" fill="#555555"/>
<rect x="288.15" y="299.13" width="1.02" height="25.37" fill="#555555"/>
<rect x="288.82" y="309.70" width="1.00" height="14.80" fill="#555555"/>
<rect x="289.47" y="309.70" width="1.00" height="14.80" fill="#555555"/>
<rect x="290.10" y="299.13" width="1.00" height="25.37" fill="#555555"/>
<rect x="290.71" y="309.70" width="1.00" height="14.80" fill="#555555"/>
<rect x="291.31" y="299.13" width="1.00" height="25.37" fill="#555555"/>
<rect x="291.89" y="309.70" width="1.00" height="14.80" fill="#555555"/>
<rect x="292.45" y="309.70" width="1.00" height="14.80" fill="#555555"/>
<rect x="293.00" y="299.13" width="1.00" height="25.37" fill="#555555"/>
<rect x="293.54" y="309.70" width="1.00" height="14.80" fill="#555555"/>
<rect x="294.06" y="309.70" width="1.00" height="14.80" fill="#555555"/>
<rect x="294.57" y="299.13" width="1.00" height="25.37" fill="#555555"/>
<rect x="295.07" y="309.70" width="1.00" height="14.80" fill="#555555"/>
<rect x="295.56" y="309.70" width="1.00" height="14.80" fill="#555555"/>
<rect x="296.03" y="299.13" width="1.00" height="25.37" fill="#555555"/>
<rect x="299.92" y="309.70" width="1.00" height="14.80" fill="#555555"/>
<rect x="302.52" y="309.70" width="1.00" height="14.80" fill="#555555"/>
<rect x="308.59" y="309.70" width="1.00" height="14.80" fill="#555555"/>
<line x1="242.2" y1="228.5" x2="292.8" y2="275.6" stroke="#2020d0" stroke-width="1.3"/>
<line x1="206.0" y1="222.0" x2="309.5" y2="222.0" stroke="#111" stroke-width="1"/>
<line x1="206.0" y1="325.0" x2="309.5" y2="325.0" stroke="#111" stroke-width="1"/>
<line x1="309.5" y1="222.0" x2="309.5" y2="325.0" stroke="#111" stroke-width="1"/>
<line x1="206.0" y1="221.5" x2="206.0" y2="325.5" stroke="#777" stroke-width="1"/>
<text x="234.73" y="342.20" font-size="13" text-anchor="start" fill="#000" stroke="#000" stroke-width="0.22">10.</text>
<text x="282.93" y="342.20" font-size="13" text-anchor="start" fill="#000" stroke="#000" stroke-width="0.22">100</text>
<text x="182.00" y="243.90" font-size="13" text-anchor="start" fill="#000" stroke="#000" stroke-width="0.22">100</text>
<text x="185.61" y="279.00" font-size="13" text-anchor="start" fill="#000" stroke="#000" stroke-width="0.22">10.</text>
<text x="192.11" y="314.10" font-size="13" text-anchor="start" fill="#000" stroke="#000" stroke-width="0.22">1.</text>
<path d="M264.2,237.4 C262.0,236.9 261.2,238.1 260.2,239.8 C259.2,241.5 258.4,242.6 257.4,242.6 C256.4,242.6 256.1,241.2 256.1,239.9 C256.1,238.6 256.4,237.2 257.4,237.2 C258.4,237.2 259.2,238.3 260.2,239.9 C261.2,241.5 262.0,242.7 264.2,242.3" fill="none" stroke="#000" stroke-width="1.1"/>
<text x="264.96" y="242.90" font-size="14" text-anchor="start" fill="#000" stroke="#000" stroke-width="0.5" font-style="italic">D</text>
<text x="276.46" y="246.20" font-size="10" text-anchor="start" fill="#000" stroke="#000" stroke-width="0.22" font-style="italic">&#946;</text>
<text x="282.50" y="237.00" font-size="10" text-anchor="start" fill="#000" stroke="#000" stroke-width="0.22">&#8722;1.33</text>
<text x="250.14" y="365.70" font-size="12.5" text-anchor="start" fill="#000" stroke="#000" stroke-width="0.22" font-style="italic">D</text>
<text x="259.94" y="368.40" font-size="8.5" text-anchor="start" fill="#000" stroke="#000" stroke-width="0.22" font-style="italic">&#946;</text>
<g transform="translate(168.2,289.8) rotate(-90)"><text x="0.15" y="0.00" font-size="13" text-anchor="start" fill="#000" stroke="#000" stroke-width="0.22" font-style="italic">f</text><text x="6.23" y="0.00" font-size="13" text-anchor="start" fill="#000" stroke="#000" stroke-width="0.22">(</text><text x="10.35" y="0.00" font-size="13" text-anchor="start" fill="#000" stroke="#000" stroke-width="0.5" font-style="italic">D</text><text x="19.96" y="2.60" font-size="10" text-anchor="start" fill="#000" stroke="#000" stroke-width="0.22" font-style="italic">&#946;</text><text x="27.18" y="0.00" font-size="13" text-anchor="start" fill="#000" stroke="#000" stroke-width="0.22">)</text></g>
<rect x="356.60" y="323.50" width="3.59" height="5.00" fill="#8686ec" stroke="#5252a8" stroke-width="0.8"/>
<rect x="360.19" y="313.20" width="3.59" height="15.30" fill="#8686ec" stroke="#5252a8" stroke-width="0.8"/>
<rect x="363.78" y="301.20" width="3.59" height="27.30" fill="#8686ec" stroke="#5252a8" stroke-width="0.8"/>
<rect x="367.37" y="291.40" width="3.59" height="37.10" fill="#8686ec" stroke="#5252a8" stroke-width="0.8"/>
<rect x="370.96" y="281.00" width="3.59" height="47.50" fill="#8686ec" stroke="#5252a8" stroke-width="0.8"/>
<rect x="374.55" y="244.80" width="3.59" height="83.70" fill="#8686ec" stroke="#5252a8" stroke-width="0.8"/>
<rect x="378.14" y="234.20" width="3.59" height="94.30" fill="#8686ec" stroke="#5252a8" stroke-width="0.8"/>
<rect x="381.73" y="234.20" width="3.59" height="94.30" fill="#8686ec" stroke="#5252a8" stroke-width="0.8"/>
<rect x="385.32" y="216.60" width="3.59" height="111.90" fill="#8686ec" stroke="#5252a8" stroke-width="0.8"/>
<rect x="388.91" y="229.00" width="3.59" height="99.50" fill="#8686ec" stroke="#5252a8" stroke-width="0.8"/>
<rect x="392.50" y="223.40" width="3.59" height="105.10" fill="#8686ec" stroke="#5252a8" stroke-width="0.8"/>
<rect x="396.09" y="215.00" width="3.59" height="113.50" fill="#8686ec" stroke="#5252a8" stroke-width="0.8"/>
<rect x="399.68" y="232.50" width="3.59" height="96.00" fill="#8686ec" stroke="#5252a8" stroke-width="0.8"/>
<rect x="403.27" y="241.90" width="3.59" height="86.60" fill="#8686ec" stroke="#5252a8" stroke-width="0.8"/>
<rect x="406.86" y="266.00" width="3.59" height="62.50" fill="#8686ec" stroke="#5252a8" stroke-width="0.8"/>
<rect x="410.45" y="266.00" width="3.59" height="62.50" fill="#8686ec" stroke="#5252a8" stroke-width="0.8"/>
<rect x="414.04" y="258.80" width="3.59" height="69.70" fill="#8686ec" stroke="#5252a8" stroke-width="0.8"/>
<rect x="417.63" y="281.50" width="3.59" height="47.00" fill="#8686ec" stroke="#5252a8" stroke-width="0.8"/>
<rect x="421.22" y="293.00" width="3.59" height="35.50" fill="#8686ec" stroke="#5252a8" stroke-width="0.8"/>
<rect x="424.81" y="304.40" width="3.59" height="24.10" fill="#8686ec" stroke="#5252a8" stroke-width="0.8"/>
<rect x="428.40" y="301.40" width="3.59" height="27.10" fill="#8686ec" stroke="#5252a8" stroke-width="0.8"/>
<rect x="431.99" y="306.20" width="3.59" height="22.30" fill="#8686ec" stroke="#5252a8" stroke-width="0.8"/>
<rect x="435.58" y="314.00" width="3.59" height="14.50" fill="#8686ec" stroke="#5252a8" stroke-width="0.8"/>
<rect x="439.17" y="325.40" width="3.59" height="3.10" fill="#8686ec" stroke="#5252a8" stroke-width="0.8"/>
<rect x="442.76" y="323.60" width="3.59" height="4.90" fill="#8686ec" stroke="#5252a8" stroke-width="0.8"/>
<rect x="446.35" y="320.60" width="3.59" height="7.90" fill="#8686ec" stroke="#5252a8" stroke-width="0.8"/>
<rect x="449.94" y="322.40" width="3.59" height="6.10" fill="#8686ec" stroke="#5252a8" stroke-width="0.8"/>
<rect x="453.53" y="322.40" width="3.59" height="6.10" fill="#8686ec" stroke="#5252a8" stroke-width="0.8"/>
<rect x="457.12" y="324.80" width="3.59" height="3.70" fill="#8686ec" stroke="#5252a8" stroke-width="0.8"/>
<rect x="460.71" y="327.50" width="3.59" height="1.00" fill="#8686ec" stroke="#5252a8" stroke-width="0.8"/>
<path d="M355.80,328.30 C356.00,327.50 355.55,327.05 357.00,323.50 C358.45,319.95 362.17,312.58 364.50,307.00 C366.83,301.42 369.33,295.17 371.00,290.00 C372.67,284.83 373.50,280.67 374.50,276.00 C375.50,271.33 376.08,266.67 377.00,262.00 C377.92,257.33 379.03,252.92 380.00,248.00 C380.97,243.08 381.55,236.67 382.80,232.50 C384.05,228.33 385.85,225.05 387.50,223.00 C389.15,220.95 391.03,220.33 392.70,220.20 C394.37,220.07 395.95,220.43 397.50,222.20 C399.05,223.97 400.42,227.10 402.00,230.80 C403.58,234.50 405.58,240.03 407.00,244.40 C408.42,248.77 409.17,252.40 410.50,257.00 C411.83,261.60 413.25,266.50 415.00,272.00 C416.75,277.50 418.92,285.00 421.00,290.00 C423.08,295.00 425.33,298.60 427.50,302.00 C429.67,305.40 431.92,307.90 434.00,310.40 C436.08,312.90 438.00,315.10 440.00,317.00 C442.00,318.90 444.00,320.50 446.00,321.80 C448.00,323.10 450.00,324.00 452.00,324.80 C454.00,325.60 455.90,326.00 458.00,326.60 C460.10,327.20 463.50,328.10 464.60,328.40" fill="none" stroke="#1515dd" stroke-width="1.25"/>
<line x1="354.5" y1="197.5" x2="466.5" y2="197.5" stroke="#111" stroke-width="1"/>
<line x1="354.5" y1="331.5" x2="466.5" y2="331.5" stroke="#111" stroke-width="1"/>
<line x1="466.5" y1="197.5" x2="466.5" y2="331.5" stroke="#111" stroke-width="1"/>
<line x1="354.5" y1="197.0" x2="354.5" y2="332.0" stroke="#111" stroke-width="1"/>
<line x1="357.00" y1="331.5" x2="357.00" y2="328.5" stroke="#111"/>
<text x="348.88" y="348.10" font-size="13" text-anchor="start" fill="#000" stroke="#000" stroke-width="0.22">0.5</text>
<line x1="405.60" y1="331.5" x2="405.60" y2="328.5" stroke="#111"/>
<text x="402.17" y="348.10" font-size="13" text-anchor="start" fill="#000" stroke="#000" stroke-width="0.22">1</text>
<line x1="454.20" y1="331.5" x2="454.20" y2="328.5" stroke="#111"/>
<text x="445.76" y="348.10" font-size="13" text-anchor="start" fill="#000" stroke="#000" stroke-width="0.22">1.5</text>
<line x1="354.5" y1="328.6" x2="358.5" y2="328.6" stroke="#111"/>
<text x="343.25" y="333.00" font-size="13" text-anchor="start" fill="#000" stroke="#000" stroke-width="0.22">0</text>
<line x1="354.5" y1="277.6" x2="358.5" y2="277.6" stroke="#111"/>
<text x="343.07" y="282.00" font-size="13" text-anchor="start" fill="#000" stroke="#000" stroke-width="0.22">1</text>
<line x1="354.5" y1="226.1" x2="358.5" y2="226.1" stroke="#111"/>
<text x="343.32" y="230.50" font-size="13" text-anchor="start" fill="#000" stroke="#000" stroke-width="0.22">2</text>
<text x="407.41" y="372.00" font-size="13" text-anchor="start" fill="#000" stroke="#000" stroke-width="0.22" font-style="italic">&#946;</text>
<g transform="translate(328.8,277.2) rotate(-90)"><text x="-0.16" y="0.00" font-size="14.5" text-anchor="start" fill="#000" stroke="#000" stroke-width="0.22" font-style="italic">f</text><text x="7.43" y="0.00" font-size="13" text-anchor="start" fill="#000" stroke="#000" stroke-width="0.22">(</text><text x="11.61" y="0.00" font-size="13" text-anchor="start" fill="#000" stroke="#000" stroke-width="0.22" font-style="italic">&#946;</text><text x="19.38" y="0.00" font-size="13" text-anchor="start" fill="#000" stroke="#000" stroke-width="0.22">)</text></g>
</svg>
</body></html>
